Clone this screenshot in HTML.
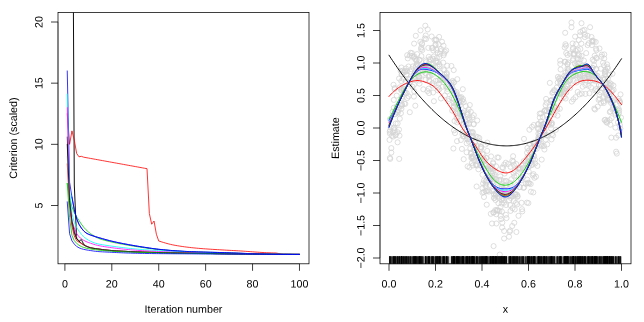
<!DOCTYPE html>
<html><head><meta charset="utf-8"><title>Criterion and estimates</title>
<style>
html,body{margin:0;padding:0;background:#fff;}
svg{display:block;will-change:transform;}
text{text-rendering:geometricPrecision;font-family:"Liberation Sans",Arial,Helvetica,sans-serif;font-size:10.70px;fill:#000;}
</style></head><body>
<svg width="644" height="322" viewBox="0 0 644 322">
<rect x="0" y="0" width="644" height="322" fill="#fff"/>
<defs><clipPath id="cl"><rect x="58.00" y="12.50" width="251.00" height="251.30"/></clipPath><clipPath id="cr"><rect x="380.00" y="12.50" width="251.00" height="251.30"/></clipPath></defs>
<g clip-path="url(#cl)">
<path d="M72.90 -90.00 L74.30 185.00 L76.60 238.00" fill="none" stroke="#000" stroke-width="0.95" stroke-linejoin="round" stroke-linecap="round" />
<path d="M67.25 137.00 L69.59 198.16 L71.94 223.10 L74.28 233.02 L76.63 238.49 L78.97 240.98 L81.32 243.19 L83.67 244.83 L86.01 246.08 L88.36 247.08 L90.70 247.80 L93.05 248.27 L95.39 248.59 L97.74 248.92 L100.09 249.25 L102.43 249.57 L104.78 249.87 L107.12 250.13 L109.47 250.36 L111.81 250.54 L114.16 250.72 L116.51 250.87 L118.85 251.02 L121.20 251.15 L123.54 251.28 L125.89 251.39 L128.23 251.50 L130.58 251.60 L132.93 251.70 L135.27 251.79 L137.62 251.88 L139.96 251.97 L142.31 252.05 L144.65 252.13 L147.00 252.21 L149.35 252.28 L151.69 252.35 L154.04 252.41 L156.38 252.47 L158.73 252.53 L161.07 252.58 L163.42 252.64 L165.77 252.69 L168.11 252.74 L170.46 252.78 L172.80 252.83 L175.15 252.88 L177.49 252.92 L179.84 252.97 L182.19 253.01 L184.53 253.05 L186.88 253.09 L189.22 253.14 L191.57 253.18 L193.91 253.22 L196.26 253.26 L198.60 253.31 L200.95 253.35 L203.30 253.39 L205.64 253.43 L207.99 253.46 L210.33 253.50 L212.68 253.54 L215.02 253.57 L217.37 253.61 L219.72 253.64 L222.06 253.67 L224.41 253.70 L226.75 253.74 L229.10 253.77 L231.44 253.80 L233.79 253.83 L236.14 253.86 L238.48 253.89 L240.83 253.92 L243.17 253.95 L245.52 253.98 L247.86 254.01 L250.21 254.04 L252.56 254.07 L254.90 254.09 L257.25 254.12 L259.59 254.15 L261.94 254.18 L264.28 254.20 L266.63 254.23 L268.98 254.25 L271.32 254.28 L273.67 254.30 L276.01 254.32 L278.36 254.33 L280.70 254.35 L283.05 254.36 L285.40 254.37 L287.74 254.38 L290.09 254.39 L292.43 254.40 L294.78 254.41 L297.12 254.42 L299.47 254.42" fill="none" stroke="#000000" stroke-width="0.80" stroke-linejoin="round" stroke-linecap="round" />
<path d="M67.25 113.75 L69.59 144.33 L71.94 130.88 L74.28 140.05 L76.63 153.39 L78.97 156.81 L81.32 156.32 L83.67 157.18 L86.01 157.61 L88.36 158.03 L90.70 158.46 L93.05 158.88 L95.39 159.31 L97.74 159.73 L100.09 160.16 L102.43 160.59 L104.78 161.01 L107.12 161.44 L109.47 161.86 L111.81 162.29 L114.16 162.72 L116.51 163.14 L118.85 163.57 L121.20 163.99 L123.54 164.42 L125.89 164.85 L128.23 165.27 L130.58 165.70 L132.93 166.12 L135.27 166.55 L137.62 166.98 L139.96 167.40 L142.31 167.83 L144.65 168.25 L147.00 168.68 L149.35 213.57 L151.69 224.22 L154.04 221.04 L156.38 234.25 L158.73 240.98 L161.07 241.73 L163.42 242.45 L165.77 243.14 L168.11 243.79 L170.46 244.37 L172.80 244.89 L175.15 245.34 L177.49 245.74 L179.84 246.12 L182.19 246.48 L184.53 246.80 L186.88 247.11 L189.22 247.39 L191.57 247.66 L193.91 247.90 L196.26 248.13 L198.60 248.34 L200.95 248.53 L203.30 248.72 L205.64 248.89 L207.99 249.05 L210.33 249.21 L212.68 249.36 L215.02 249.50 L217.37 249.64 L219.72 249.78 L222.06 249.92 L224.41 250.05 L226.75 250.19 L229.10 250.32 L231.44 250.45 L233.79 250.57 L236.14 250.70 L238.48 250.83 L240.83 250.98 L243.17 251.14 L245.52 251.30 L247.86 251.47 L250.21 251.65 L252.56 251.82 L254.90 251.99 L257.25 252.15 L259.59 252.31 L261.94 252.46 L264.28 252.59 L266.63 252.71 L268.98 252.81 L271.32 252.89 L273.67 252.94 L276.01 253.03 L278.36 253.44 L280.70 254.09 L283.05 254.43 L285.40 254.43 L287.74 254.43 L290.09 254.43 L292.43 254.43 L294.78 254.43 L297.12 254.43 L299.47 254.43" fill="none" stroke="#FF0000" stroke-width="0.80" stroke-linejoin="round" stroke-linecap="round" />
<path d="M67.25 183.48 L69.59 198.16 L71.94 206.72 L74.28 212.84 L76.63 216.83 L78.97 220.43 L81.32 224.04 L83.67 227.19 L86.01 229.75 L88.36 231.93 L90.70 233.79 L93.05 235.38 L95.39 236.78 L97.74 237.97 L100.09 238.91 L102.43 239.67 L104.78 240.32 L107.12 240.91 L109.47 241.47 L111.81 242.03 L114.16 242.55 L116.51 243.04 L118.85 243.50 L121.20 243.94 L123.54 244.37 L125.89 244.79 L128.23 245.20 L130.58 245.60 L132.93 246.00 L135.27 246.38 L137.62 246.76 L139.96 247.12 L142.31 247.47 L144.65 247.80 L147.00 248.13 L149.35 248.44 L151.69 248.74 L154.04 249.03 L156.38 249.30 L158.73 249.54 L161.07 249.77 L163.42 249.99 L165.77 250.20 L168.11 250.40 L170.46 250.58 L172.80 250.76 L175.15 250.92 L177.49 251.08 L179.84 251.23 L182.19 251.36 L184.53 251.49 L186.88 251.61 L189.22 251.72 L191.57 251.82 L193.91 251.91 L196.26 251.99 L198.60 252.07 L200.95 252.14 L203.30 252.20 L205.64 252.27 L207.99 252.33 L210.33 252.39 L212.68 252.45 L215.02 252.52 L217.37 252.58 L219.72 252.65 L222.06 252.72 L224.41 252.79 L226.75 252.86 L229.10 252.94 L231.44 253.03 L233.79 253.11 L236.14 253.20 L238.48 253.28 L240.83 253.37 L243.17 253.45 L245.52 253.53 L247.86 253.61 L250.21 253.69 L252.56 253.76 L254.90 253.83 L257.25 253.90 L259.59 253.97 L261.94 254.03 L264.28 254.09 L266.63 254.14 L268.98 254.18 L271.32 254.23 L273.67 254.26 L276.01 254.29 L278.36 254.32 L280.70 254.34 L283.05 254.36 L285.40 254.37 L287.74 254.38 L290.09 254.39 L292.43 254.40 L294.78 254.41 L297.12 254.42 L299.47 254.42" fill="none" stroke="#00CD00" stroke-width="0.80" stroke-linejoin="round" stroke-linecap="round" />
<path d="M67.25 70.94 L69.59 182.26 L71.94 196.94 L74.28 209.78 L76.63 218.68 L78.97 224.28 L81.32 228.03 L83.67 230.88 L86.01 232.90 L88.36 234.18 L90.70 235.11 L93.05 235.90 L95.39 236.65 L97.74 237.33 L100.09 238.00 L102.43 238.68 L104.78 239.35 L107.12 240.00 L109.47 240.61 L111.81 241.19 L114.16 241.73 L116.51 242.25 L118.85 242.75 L121.20 243.22 L123.54 243.68 L125.89 244.13 L128.23 244.57 L130.58 245.00 L132.93 245.41 L135.27 245.82 L137.62 246.21 L139.96 246.59 L142.31 246.96 L144.65 247.32 L147.00 247.68 L149.35 248.04 L151.69 248.38 L154.04 248.71 L156.38 249.01 L158.73 249.29 L161.07 249.54 L163.42 249.78 L165.77 250.00 L168.11 250.21 L170.46 250.41 L172.80 250.60 L175.15 250.77 L177.49 250.93 L179.84 251.09 L182.19 251.23 L184.53 251.36 L186.88 251.48 L189.22 251.60 L191.57 251.70 L193.91 251.79 L196.26 251.87 L198.60 251.95 L200.95 252.02 L203.30 252.08 L205.64 252.14 L207.99 252.21 L210.33 252.27 L212.68 252.33 L215.02 252.39 L217.37 252.45 L219.72 252.52 L222.06 252.59 L224.41 252.67 L226.75 252.74 L229.10 252.83 L231.44 252.91 L233.79 253.00 L236.14 253.09 L238.48 253.18 L240.83 253.27 L243.17 253.36 L245.52 253.45 L247.86 253.54 L250.21 253.62 L252.56 253.70 L254.90 253.78 L257.25 253.85 L259.59 253.93 L261.94 254.00 L264.28 254.06 L266.63 254.12 L268.98 254.17 L271.32 254.22 L273.67 254.25 L276.01 254.29 L278.36 254.31 L280.70 254.34 L283.05 254.36 L285.40 254.37 L287.74 254.38 L290.09 254.39 L292.43 254.40 L294.78 254.41 L297.12 254.42 L299.47 254.42" fill="none" stroke="#0000FF" stroke-width="0.80" stroke-linejoin="round" stroke-linecap="round" />
<path d="M67.25 94.18 L69.59 190.82 L71.94 213.79 L74.28 222.37 L76.63 227.40 L78.97 231.09 L81.32 234.15 L83.67 236.69 L86.01 238.58 L88.36 240.07 L90.70 241.30 L93.05 242.34 L95.39 243.22 L97.74 243.83 L100.09 244.32 L102.43 244.74 L104.78 245.11 L107.12 245.45 L109.47 245.80 L111.81 246.15 L114.16 246.48 L116.51 246.81 L118.85 247.11 L121.20 247.41 L123.54 247.69 L125.89 247.95 L128.23 248.21 L130.58 248.46 L132.93 248.69 L135.27 248.91 L137.62 249.13 L139.96 249.33 L142.31 249.53 L144.65 249.72 L147.00 249.89 L149.35 250.05 L151.69 250.21 L154.04 250.35 L156.38 250.49 L158.73 250.63 L161.07 250.76 L163.42 250.88 L165.77 251.01 L168.11 251.13 L170.46 251.26 L172.80 251.38 L175.15 251.50 L177.49 251.63 L179.84 251.75 L182.19 251.88 L184.53 252.01 L186.88 252.15 L189.22 252.28 L191.57 252.41 L193.91 252.53 L196.26 252.65 L198.60 252.76 L200.95 252.87 L203.30 252.97 L205.64 253.06 L207.99 253.14 L210.33 253.22 L212.68 253.28 L215.02 253.35 L217.37 253.40 L219.72 253.45 L222.06 253.50 L224.41 253.55 L226.75 253.59 L229.10 253.63 L231.44 253.67 L233.79 253.71 L236.14 253.75 L238.48 253.78 L240.83 253.82 L243.17 253.86 L245.52 253.89 L247.86 253.93 L250.21 253.97 L252.56 254.00 L254.90 254.04 L257.25 254.08 L259.59 254.11 L261.94 254.15 L264.28 254.18 L266.63 254.21 L268.98 254.24 L271.32 254.26 L273.67 254.29 L276.01 254.31 L278.36 254.33 L280.70 254.35 L283.05 254.36 L285.40 254.37 L287.74 254.38 L290.09 254.39 L292.43 254.40 L294.78 254.41 L297.12 254.42 L299.47 254.42" fill="none" stroke="#00FFFF" stroke-width="0.80" stroke-linejoin="round" stroke-linecap="round" />
<path d="M67.25 107.64 L69.59 203.05 L71.94 220.67 L74.28 228.06 L76.63 233.58 L78.97 236.82 L81.32 238.65 L83.67 240.32 L86.01 241.52 L88.36 242.45 L90.70 243.27 L93.05 244.07 L95.39 244.82 L97.74 245.40 L100.09 245.89 L102.43 246.32 L104.78 246.70 L107.12 247.05 L109.47 247.39 L111.81 247.72 L114.16 248.03 L116.51 248.32 L118.85 248.60 L121.20 248.86 L123.54 249.11 L125.89 249.34 L128.23 249.56 L130.58 249.77 L132.93 249.97 L135.27 250.15 L137.62 250.33 L139.96 250.50 L142.31 250.66 L144.65 250.81 L147.00 250.95 L149.35 251.07 L151.69 251.19 L154.04 251.31 L156.38 251.41 L158.73 251.51 L161.07 251.61 L163.42 251.71 L165.77 251.80 L168.11 251.90 L170.46 251.99 L172.80 252.08 L175.15 252.17 L177.49 252.27 L179.84 252.36 L182.19 252.46 L184.53 252.56 L186.88 252.66 L189.22 252.76 L191.57 252.85 L193.91 252.94 L196.26 253.03 L198.60 253.12 L200.95 253.20 L203.30 253.27 L205.64 253.34 L207.99 253.40 L210.33 253.46 L212.68 253.51 L215.02 253.56 L217.37 253.60 L219.72 253.64 L222.06 253.67 L224.41 253.71 L226.75 253.74 L229.10 253.77 L231.44 253.80 L233.79 253.83 L236.14 253.86 L238.48 253.89 L240.83 253.92 L243.17 253.95 L245.52 253.98 L247.86 254.01 L250.21 254.04 L252.56 254.07 L254.90 254.09 L257.25 254.12 L259.59 254.15 L261.94 254.18 L264.28 254.21 L266.63 254.23 L268.98 254.25 L271.32 254.28 L273.67 254.30 L276.01 254.32 L278.36 254.33 L280.70 254.35 L283.05 254.36 L285.40 254.37 L287.74 254.38 L290.09 254.39 L292.43 254.40 L294.78 254.41 L297.12 254.42 L299.47 254.42" fill="none" stroke="#FF00FF" stroke-width="0.80" stroke-linejoin="round" stroke-linecap="round" />
<path d="M67.25 163.91 L69.59 205.50 L71.94 226.21 L74.28 235.98 L76.63 240.69 L78.97 242.13 L81.32 243.60 L83.67 244.91 L86.01 246.03 L88.36 247.03 L90.70 247.80 L93.05 248.27 L95.39 248.59 L97.74 248.92 L100.09 249.25 L102.43 249.57 L104.78 249.87 L107.12 250.13 L109.47 250.36 L111.81 250.54 L114.16 250.72 L116.51 250.87 L118.85 251.02 L121.20 251.15 L123.54 251.28 L125.89 251.39 L128.23 251.50 L130.58 251.60 L132.93 251.70 L135.27 251.79 L137.62 251.88 L139.96 251.97 L142.31 252.05 L144.65 252.13 L147.00 252.21 L149.35 252.28 L151.69 252.35 L154.04 252.41 L156.38 252.47 L158.73 252.53 L161.07 252.58 L163.42 252.64 L165.77 252.69 L168.11 252.74 L170.46 252.78 L172.80 252.83 L175.15 252.88 L177.49 252.92 L179.84 252.97 L182.19 253.01 L184.53 253.05 L186.88 253.09 L189.22 253.14 L191.57 253.18 L193.91 253.22 L196.26 253.26 L198.60 253.31 L200.95 253.35 L203.30 253.39 L205.64 253.43 L207.99 253.46 L210.33 253.50 L212.68 253.54 L215.02 253.57 L217.37 253.61 L219.72 253.64 L222.06 253.67 L224.41 253.70 L226.75 253.74 L229.10 253.77 L231.44 253.80 L233.79 253.83 L236.14 253.86 L238.48 253.89 L240.83 253.92 L243.17 253.95 L245.52 253.98 L247.86 254.01 L250.21 254.04 L252.56 254.07 L254.90 254.09 L257.25 254.12 L259.59 254.15 L261.94 254.18 L264.28 254.20 L266.63 254.23 L268.98 254.25 L271.32 254.28 L273.67 254.30 L276.01 254.32 L278.36 254.33 L280.70 254.35 L283.05 254.36 L285.40 254.37 L287.74 254.38 L290.09 254.39 L292.43 254.40 L294.78 254.41 L297.12 254.42 L299.47 254.42" fill="none" stroke="#FF0000" stroke-width="0.80" stroke-linejoin="round" stroke-linecap="round" />
<path d="M67.25 156.57 L69.59 200.61 L71.94 221.40 L74.28 231.19 L76.63 237.06 L78.97 240.73 L81.32 238.53 L83.67 243.42 L86.01 246.11 L88.36 247.09 L90.70 247.81 L93.05 248.27 L95.39 248.59 L97.74 248.92 L100.09 249.25 L102.43 249.57 L104.78 249.87 L107.12 250.13 L109.47 250.36 L111.81 250.54 L114.16 250.72 L116.51 250.87 L118.85 251.02 L121.20 251.15 L123.54 251.28 L125.89 251.39 L128.23 251.50 L130.58 251.60 L132.93 251.70 L135.27 251.79 L137.62 251.88 L139.96 251.97 L142.31 252.05 L144.65 252.13 L147.00 252.21 L149.35 252.28 L151.69 252.35 L154.04 252.41 L156.38 252.47 L158.73 252.53 L161.07 252.58 L163.42 252.64 L165.77 252.69 L168.11 252.74 L170.46 252.78 L172.80 252.83 L175.15 252.88 L177.49 252.92 L179.84 252.97 L182.19 253.01 L184.53 253.05 L186.88 253.09 L189.22 253.14 L191.57 253.18 L193.91 253.22 L196.26 253.26 L198.60 253.31 L200.95 253.35 L203.30 253.39 L205.64 253.43 L207.99 253.46 L210.33 253.50 L212.68 253.54 L215.02 253.57 L217.37 253.61 L219.72 253.64 L222.06 253.67 L224.41 253.70 L226.75 253.74 L229.10 253.77 L231.44 253.80 L233.79 253.83 L236.14 253.86 L238.48 253.89 L240.83 253.92 L243.17 253.95 L245.52 253.98 L247.86 254.01 L250.21 254.04 L252.56 254.07 L254.90 254.09 L257.25 254.12 L259.59 254.15 L261.94 254.18 L264.28 254.20 L266.63 254.23 L268.98 254.25 L271.32 254.28 L273.67 254.30 L276.01 254.32 L278.36 254.33 L280.70 254.35 L283.05 254.36 L285.40 254.37 L287.74 254.38 L290.09 254.39 L292.43 254.40 L294.78 254.41 L297.12 254.42 L299.47 254.42" fill="none" stroke="#BEBEBE" stroke-width="0.80" stroke-linejoin="round" stroke-linecap="round" />
<path d="M67.25 144.33 L69.59 200.61 L71.94 221.40 L74.28 231.19 L76.63 238.41 L78.97 241.59 L81.32 239.51 L83.67 244.40 L86.01 246.11 L88.36 247.09 L90.70 247.81 L93.05 248.27 L95.39 248.59 L97.74 248.92 L100.09 249.25 L102.43 249.57 L104.78 249.87 L107.12 250.13 L109.47 250.36 L111.81 250.54 L114.16 250.72 L116.51 250.87 L118.85 251.02 L121.20 251.15 L123.54 251.28 L125.89 251.39 L128.23 251.50 L130.58 251.60 L132.93 251.70 L135.27 251.79 L137.62 251.88 L139.96 251.97 L142.31 252.05 L144.65 252.13 L147.00 252.21 L149.35 252.28 L151.69 252.35 L154.04 252.41 L156.38 252.47 L158.73 252.53 L161.07 252.58 L163.42 252.64 L165.77 252.69 L168.11 252.74 L170.46 252.78 L172.80 252.83 L175.15 252.88 L177.49 252.92 L179.84 252.97 L182.19 253.01 L184.53 253.05 L186.88 253.09 L189.22 253.14 L191.57 253.18 L193.91 253.22 L196.26 253.26 L198.60 253.31 L200.95 253.35 L203.30 253.39 L205.64 253.43 L207.99 253.46 L210.33 253.50 L212.68 253.54 L215.02 253.57 L217.37 253.61 L219.72 253.64 L222.06 253.67 L224.41 253.70 L226.75 253.74 L229.10 253.77 L231.44 253.80 L233.79 253.83 L236.14 253.86 L238.48 253.89 L240.83 253.92 L243.17 253.95 L245.52 253.98 L247.86 254.01 L250.21 254.04 L252.56 254.07 L254.90 254.09 L257.25 254.12 L259.59 254.15 L261.94 254.18 L264.28 254.20 L266.63 254.23 L268.98 254.25 L271.32 254.28 L273.67 254.30 L276.01 254.32 L278.36 254.33 L280.70 254.35 L283.05 254.36 L285.40 254.37 L287.74 254.38 L290.09 254.39 L292.43 254.40 L294.78 254.41 L297.12 254.42 L299.47 254.42" fill="none" stroke="#000000" stroke-width="0.80" stroke-linejoin="round" stroke-linecap="round" />
<path d="M67.25 183.48 L69.59 217.73 L71.94 235.34 L74.28 240.65 L76.63 243.38 L78.97 245.22 L81.32 246.54 L83.67 247.46 L86.01 248.09 L88.36 248.57 L90.70 248.98 L93.05 249.36 L95.39 249.69 L97.74 249.99 L100.09 250.25 L102.43 250.50 L104.78 250.72 L107.12 250.92 L109.47 251.10 L111.81 251.25 L114.16 251.40 L116.51 251.53 L118.85 251.66 L121.20 251.77 L123.54 251.88 L125.89 251.98 L128.23 252.08 L130.58 252.17 L132.93 252.25 L135.27 252.33 L137.62 252.41 L139.96 252.48 L142.31 252.55 L144.65 252.62 L147.00 252.68 L149.35 252.74 L151.69 252.79 L154.04 252.85 L156.38 252.89 L158.73 252.94 L161.07 252.99 L163.42 253.03 L165.77 253.07 L168.11 253.11 L170.46 253.15 L172.80 253.19 L175.15 253.22 L177.49 253.26 L179.84 253.29 L182.19 253.33 L184.53 253.36 L186.88 253.39 L189.22 253.43 L191.57 253.46 L193.91 253.49 L196.26 253.52 L198.60 253.56 L200.95 253.59 L203.30 253.62 L205.64 253.65 L207.99 253.68 L210.33 253.70 L212.68 253.73 L215.02 253.76 L217.37 253.78 L219.72 253.81 L222.06 253.83 L224.41 253.85 L226.75 253.88 L229.10 253.90 L231.44 253.93 L233.79 253.95 L236.14 253.97 L238.48 253.99 L240.83 254.02 L243.17 254.04 L245.52 254.06 L247.86 254.08 L250.21 254.10 L252.56 254.13 L254.90 254.15 L257.25 254.17 L259.59 254.19 L261.94 254.21 L264.28 254.23 L266.63 254.25 L268.98 254.27 L271.32 254.29 L273.67 254.31 L276.01 254.32 L278.36 254.34 L280.70 254.35 L283.05 254.36 L285.40 254.37 L287.74 254.38 L290.09 254.39 L292.43 254.40 L294.78 254.41 L297.12 254.42 L299.47 254.42" fill="none" stroke="#00CD00" stroke-width="0.80" stroke-linejoin="round" stroke-linecap="round" />
<path d="M67.25 201.83 L69.59 233.64 L71.94 240.89 L74.28 244.06 L76.63 246.44 L78.97 247.77 L81.32 248.69 L83.67 249.35 L86.01 249.84 L88.36 250.23 L90.70 250.58 L93.05 250.95 L95.39 251.30 L97.74 251.52 L100.09 251.70 L102.43 251.84 L104.78 251.97 L107.12 252.09 L109.47 252.21 L111.81 252.33 L114.16 252.45 L116.51 252.56 L118.85 252.67 L121.20 252.78 L123.54 252.88 L125.89 252.97 L128.23 253.05 L130.58 253.13 L132.93 253.20 L135.27 253.27 L137.62 253.33 L139.96 253.38 L142.31 253.43 L144.65 253.46 L147.00 253.50 L149.35 253.53 L151.69 253.56 L154.04 253.59 L156.38 253.62 L158.73 253.64 L161.07 253.66 L163.42 253.68 L165.77 253.70 L168.11 253.72 L170.46 253.74 L172.80 253.75 L175.15 253.77 L177.49 253.79 L179.84 253.80 L182.19 253.82 L184.53 253.84 L186.88 253.85 L189.22 253.87 L191.57 253.88 L193.91 253.90 L196.26 253.92 L198.60 253.93 L200.95 253.95 L203.30 253.97 L205.64 253.98 L207.99 254.00 L210.33 254.01 L212.68 254.03 L215.02 254.04 L217.37 254.06 L219.72 254.07 L222.06 254.09 L224.41 254.10 L226.75 254.11 L229.10 254.13 L231.44 254.14 L233.79 254.15 L236.14 254.17 L238.48 254.18 L240.83 254.19 L243.17 254.20 L245.52 254.21 L247.86 254.23 L250.21 254.24 L252.56 254.25 L254.90 254.26 L257.25 254.27 L259.59 254.28 L261.94 254.29 L264.28 254.30 L266.63 254.31 L268.98 254.32 L271.32 254.33 L273.67 254.33 L276.01 254.34 L278.36 254.35 L280.70 254.36 L283.05 254.37 L285.40 254.38 L287.74 254.38 L290.09 254.39 L292.43 254.40 L294.78 254.41 L297.12 254.42 L299.47 254.42" fill="none" stroke="#0000FF" stroke-width="0.80" stroke-linejoin="round" stroke-linecap="round" />
<path d="M71.94 196.94 L74.28 209.78 L76.63 218.68 L78.97 224.28 L81.32 228.03 L83.67 230.88 L86.01 232.90 L88.36 234.18 L90.70 235.11 L93.05 235.90 L95.39 236.65 L97.74 237.33 L100.09 238.00 L102.43 238.68 L104.78 239.35 L107.12 240.00 L109.47 240.61 L111.81 241.19 L114.16 241.73 L116.51 242.25 L118.85 242.75 L121.20 243.22 L123.54 243.68 L125.89 244.13 L128.23 244.57 L130.58 245.00 L132.93 245.41 L135.27 245.82 L137.62 246.21 L139.96 246.59 L142.31 246.96 L144.65 247.32 L147.00 247.68 L149.35 248.04 L151.69 248.38 L154.04 248.71 L156.38 249.01 L158.73 249.29 L161.07 249.54 L163.42 249.78 L165.77 250.00 L168.11 250.21 L170.46 250.41 L172.80 250.60 L175.15 250.77 L177.49 250.93 L179.84 251.09 L182.19 251.23 L184.53 251.36 L186.88 251.48 L189.22 251.60 L191.57 251.70 L193.91 251.79 L196.26 251.87 L198.60 251.95 L200.95 252.02 L203.30 252.08 L205.64 252.14 L207.99 252.21 L210.33 252.27 L212.68 252.33 L215.02 252.39 L217.37 252.45 L219.72 252.52 L222.06 252.59 L224.41 252.67 L226.75 252.74 L229.10 252.83 L231.44 252.91 L233.79 253.00 L236.14 253.09 L238.48 253.18 L240.83 253.27 L243.17 253.36 L245.52 253.45 L247.86 253.54 L250.21 253.62 L252.56 253.70 L254.90 253.78 L257.25 253.85 L259.59 253.93 L261.94 254.00 L264.28 254.06 L266.63 254.12 L268.98 254.17 L271.32 254.22 L273.67 254.25 L276.01 254.29 L278.36 254.31 L280.70 254.34 L283.05 254.36 L285.40 254.37 L287.74 254.38 L290.09 254.39 L292.43 254.40 L294.78 254.41 L297.12 254.42 L299.47 254.42" fill="none" stroke="#0000FF" stroke-width="0.80" stroke-linejoin="round" stroke-linecap="round" />
</g>
<g clip-path="url(#cr)" fill="none" stroke="#D3D3D3" stroke-width="0.75">
<circle cx="430.9" cy="59.6" r="2.55"/><circle cx="393.5" cy="84.8" r="2.55"/><circle cx="496.7" cy="210.1" r="2.55"/><circle cx="557.5" cy="115.6" r="2.55"/><circle cx="486.7" cy="158.1" r="2.55"/><circle cx="501.9" cy="211.6" r="2.55"/><circle cx="392.0" cy="135.8" r="2.55"/><circle cx="502.3" cy="222.6" r="2.55"/><circle cx="608.0" cy="99.3" r="2.55"/><circle cx="586.8" cy="71.1" r="2.55"/><circle cx="558.7" cy="78.9" r="2.55"/><circle cx="414.3" cy="91.4" r="2.55"/><circle cx="596.8" cy="78.1" r="2.55"/><circle cx="588.3" cy="70.2" r="2.55"/><circle cx="427.4" cy="91.1" r="2.55"/><circle cx="536.0" cy="176.7" r="2.55"/><circle cx="393.8" cy="107.7" r="2.55"/><circle cx="416.1" cy="60.4" r="2.55"/><circle cx="462.6" cy="131.9" r="2.55"/><circle cx="425.7" cy="35.5" r="2.55"/><circle cx="565.5" cy="61.8" r="2.55"/><circle cx="579.2" cy="55.5" r="2.55"/><circle cx="469.1" cy="124.1" r="2.55"/><circle cx="463.1" cy="113.0" r="2.55"/><circle cx="415.0" cy="58.8" r="2.55"/><circle cx="408.5" cy="66.5" r="2.55"/><circle cx="554.7" cy="99.5" r="2.55"/><circle cx="528.4" cy="203.1" r="2.55"/><circle cx="401.9" cy="98.4" r="2.55"/><circle cx="500.6" cy="206.8" r="2.55"/><circle cx="482.4" cy="188.3" r="2.55"/><circle cx="586.2" cy="53.1" r="2.55"/><circle cx="555.9" cy="129.8" r="2.55"/><circle cx="529.0" cy="150.5" r="2.55"/><circle cx="517.4" cy="196.8" r="2.55"/><circle cx="609.7" cy="120.1" r="2.55"/><circle cx="618.4" cy="135.5" r="2.55"/><circle cx="467.6" cy="166.4" r="2.55"/><circle cx="444.8" cy="51.7" r="2.55"/><circle cx="574.2" cy="72.1" r="2.55"/><circle cx="403.8" cy="72.4" r="2.55"/><circle cx="473.8" cy="115.2" r="2.55"/><circle cx="405.3" cy="103.9" r="2.55"/><circle cx="463.3" cy="124.8" r="2.55"/><circle cx="405.4" cy="71.7" r="2.55"/><circle cx="456.5" cy="95.3" r="2.55"/><circle cx="572.7" cy="75.1" r="2.55"/><circle cx="599.5" cy="48.5" r="2.55"/><circle cx="573.3" cy="58.8" r="2.55"/><circle cx="519.6" cy="168.3" r="2.55"/><circle cx="532.2" cy="164.6" r="2.55"/><circle cx="473.0" cy="136.4" r="2.55"/><circle cx="428.3" cy="68.0" r="2.55"/><circle cx="490.4" cy="176.3" r="2.55"/><circle cx="559.4" cy="93.1" r="2.55"/><circle cx="403.6" cy="89.5" r="2.55"/><circle cx="393.8" cy="99.9" r="2.55"/><circle cx="568.2" cy="62.4" r="2.55"/><circle cx="458.7" cy="101.3" r="2.55"/><circle cx="552.0" cy="134.0" r="2.55"/><circle cx="559.8" cy="108.8" r="2.55"/><circle cx="605.9" cy="94.5" r="2.55"/><circle cx="482.1" cy="153.5" r="2.55"/><circle cx="472.3" cy="117.5" r="2.55"/><circle cx="576.5" cy="82.5" r="2.55"/><circle cx="566.7" cy="79.1" r="2.55"/><circle cx="540.7" cy="145.0" r="2.55"/><circle cx="577.5" cy="66.6" r="2.55"/><circle cx="538.3" cy="139.3" r="2.55"/><circle cx="611.6" cy="118.2" r="2.55"/><circle cx="466.6" cy="152.3" r="2.55"/><circle cx="560.6" cy="69.5" r="2.55"/><circle cx="609.8" cy="85.2" r="2.55"/><circle cx="466.7" cy="136.4" r="2.55"/><circle cx="531.2" cy="162.7" r="2.55"/><circle cx="474.0" cy="160.2" r="2.55"/><circle cx="496.3" cy="214.3" r="2.55"/><circle cx="406.4" cy="74.4" r="2.55"/><circle cx="393.5" cy="128.5" r="2.55"/><circle cx="565.6" cy="98.5" r="2.55"/><circle cx="494.3" cy="197.8" r="2.55"/><circle cx="533.8" cy="125.0" r="2.55"/><circle cx="561.0" cy="79.0" r="2.55"/><circle cx="486.3" cy="170.9" r="2.55"/><circle cx="474.5" cy="147.3" r="2.55"/><circle cx="428.3" cy="47.9" r="2.55"/><circle cx="573.6" cy="54.6" r="2.55"/><circle cx="582.7" cy="86.7" r="2.55"/><circle cx="559.7" cy="94.0" r="2.55"/><circle cx="592.5" cy="80.0" r="2.55"/><circle cx="539.7" cy="135.9" r="2.55"/><circle cx="550.8" cy="111.7" r="2.55"/><circle cx="433.9" cy="101.2" r="2.55"/><circle cx="567.5" cy="54.9" r="2.55"/><circle cx="466.7" cy="124.2" r="2.55"/><circle cx="490.8" cy="213.8" r="2.55"/><circle cx="463.1" cy="99.1" r="2.55"/><circle cx="521.1" cy="178.3" r="2.55"/><circle cx="542.1" cy="124.9" r="2.55"/><circle cx="522.8" cy="177.2" r="2.55"/><circle cx="463.0" cy="116.4" r="2.55"/><circle cx="439.7" cy="80.1" r="2.55"/><circle cx="585.4" cy="93.9" r="2.55"/><circle cx="459.3" cy="121.0" r="2.55"/><circle cx="490.9" cy="179.8" r="2.55"/><circle cx="410.3" cy="78.7" r="2.55"/><circle cx="459.0" cy="97.6" r="2.55"/><circle cx="408.9" cy="83.6" r="2.55"/><circle cx="468.9" cy="141.7" r="2.55"/><circle cx="553.9" cy="90.3" r="2.55"/><circle cx="615.4" cy="127.6" r="2.55"/><circle cx="534.4" cy="177.8" r="2.55"/><circle cx="451.6" cy="97.9" r="2.55"/><circle cx="541.7" cy="159.6" r="2.55"/><circle cx="534.8" cy="146.4" r="2.55"/><circle cx="581.0" cy="80.8" r="2.55"/><circle cx="513.1" cy="156.2" r="2.55"/><circle cx="600.8" cy="85.3" r="2.55"/><circle cx="485.6" cy="184.6" r="2.55"/><circle cx="455.5" cy="112.9" r="2.55"/><circle cx="509.7" cy="231.8" r="2.55"/><circle cx="603.5" cy="101.4" r="2.55"/><circle cx="557.3" cy="109.5" r="2.55"/><circle cx="503.8" cy="200.1" r="2.55"/><circle cx="504.7" cy="194.5" r="2.55"/><circle cx="539.8" cy="139.5" r="2.55"/><circle cx="493.1" cy="163.5" r="2.55"/><circle cx="517.0" cy="194.6" r="2.55"/><circle cx="614.8" cy="112.7" r="2.55"/><circle cx="605.8" cy="82.9" r="2.55"/><circle cx="584.5" cy="78.6" r="2.55"/><circle cx="418.5" cy="76.4" r="2.55"/><circle cx="518.4" cy="168.0" r="2.55"/><circle cx="474.2" cy="145.6" r="2.55"/><circle cx="601.0" cy="102.9" r="2.55"/><circle cx="461.9" cy="148.9" r="2.55"/><circle cx="605.4" cy="119.8" r="2.55"/><circle cx="444.4" cy="70.2" r="2.55"/><circle cx="486.7" cy="204.7" r="2.55"/><circle cx="612.2" cy="102.0" r="2.55"/><circle cx="527.5" cy="157.0" r="2.55"/><circle cx="605.7" cy="87.7" r="2.55"/><circle cx="514.3" cy="222.8" r="2.55"/><circle cx="442.0" cy="41.8" r="2.55"/><circle cx="554.8" cy="90.3" r="2.55"/><circle cx="510.3" cy="195.7" r="2.55"/><circle cx="506.5" cy="181.2" r="2.55"/><circle cx="420.7" cy="70.0" r="2.55"/><circle cx="422.7" cy="70.7" r="2.55"/><circle cx="605.1" cy="72.4" r="2.55"/><circle cx="611.3" cy="137.6" r="2.55"/><circle cx="613.6" cy="89.9" r="2.55"/><circle cx="472.2" cy="136.0" r="2.55"/><circle cx="399.7" cy="87.4" r="2.55"/><circle cx="517.8" cy="168.6" r="2.55"/><circle cx="560.2" cy="60.6" r="2.55"/><circle cx="539.7" cy="113.6" r="2.55"/><circle cx="401.3" cy="81.1" r="2.55"/><circle cx="443.1" cy="82.1" r="2.55"/><circle cx="553.1" cy="92.1" r="2.55"/><circle cx="401.8" cy="104.2" r="2.55"/><circle cx="585.8" cy="80.4" r="2.55"/><circle cx="619.0" cy="113.0" r="2.55"/><circle cx="446.6" cy="74.4" r="2.55"/><circle cx="401.6" cy="74.7" r="2.55"/><circle cx="616.8" cy="153.6" r="2.55"/><circle cx="567.4" cy="64.2" r="2.55"/><circle cx="494.6" cy="174.6" r="2.55"/><circle cx="500.2" cy="189.2" r="2.55"/><circle cx="601.9" cy="54.6" r="2.55"/><circle cx="471.7" cy="156.8" r="2.55"/><circle cx="401.4" cy="90.2" r="2.55"/><circle cx="531.7" cy="165.1" r="2.55"/><circle cx="461.7" cy="115.0" r="2.55"/><circle cx="547.5" cy="135.6" r="2.55"/><circle cx="609.4" cy="99.3" r="2.55"/><circle cx="472.8" cy="131.9" r="2.55"/><circle cx="446.4" cy="78.0" r="2.55"/><circle cx="401.3" cy="90.1" r="2.55"/><circle cx="582.4" cy="76.0" r="2.55"/><circle cx="407.2" cy="55.2" r="2.55"/><circle cx="610.4" cy="111.4" r="2.55"/><circle cx="553.2" cy="103.3" r="2.55"/><circle cx="600.9" cy="68.7" r="2.55"/><circle cx="578.4" cy="66.6" r="2.55"/><circle cx="433.3" cy="50.4" r="2.55"/><circle cx="429.9" cy="59.1" r="2.55"/><circle cx="612.5" cy="73.8" r="2.55"/><circle cx="456.7" cy="92.2" r="2.55"/><circle cx="572.8" cy="60.4" r="2.55"/><circle cx="428.7" cy="76.7" r="2.55"/><circle cx="458.5" cy="98.4" r="2.55"/><circle cx="545.6" cy="105.2" r="2.55"/><circle cx="446.8" cy="73.2" r="2.55"/><circle cx="563.8" cy="97.1" r="2.55"/><circle cx="593.4" cy="78.1" r="2.55"/><circle cx="463.5" cy="123.6" r="2.55"/><circle cx="458.4" cy="106.2" r="2.55"/><circle cx="395.4" cy="135.2" r="2.55"/><circle cx="487.3" cy="142.6" r="2.55"/><circle cx="404.2" cy="91.6" r="2.55"/><circle cx="522.6" cy="175.0" r="2.55"/><circle cx="548.9" cy="122.4" r="2.55"/><circle cx="521.1" cy="180.2" r="2.55"/><circle cx="529.4" cy="129.7" r="2.55"/><circle cx="528.4" cy="182.7" r="2.55"/><circle cx="598.9" cy="85.1" r="2.55"/><circle cx="512.5" cy="208.2" r="2.55"/><circle cx="589.3" cy="74.6" r="2.55"/><circle cx="470.8" cy="111.8" r="2.55"/><circle cx="421.7" cy="75.7" r="2.55"/><circle cx="440.6" cy="79.3" r="2.55"/><circle cx="573.4" cy="99.3" r="2.55"/><circle cx="442.4" cy="80.2" r="2.55"/><circle cx="568.6" cy="69.0" r="2.55"/><circle cx="598.9" cy="84.8" r="2.55"/><circle cx="515.6" cy="194.1" r="2.55"/><circle cx="422.3" cy="50.1" r="2.55"/><circle cx="534.0" cy="144.0" r="2.55"/><circle cx="477.2" cy="156.9" r="2.55"/><circle cx="600.2" cy="92.1" r="2.55"/><circle cx="441.0" cy="98.5" r="2.55"/><circle cx="443.5" cy="45.7" r="2.55"/><circle cx="501.1" cy="219.1" r="2.55"/><circle cx="503.8" cy="181.1" r="2.55"/><circle cx="432.7" cy="67.4" r="2.55"/><circle cx="476.0" cy="165.1" r="2.55"/><circle cx="544.3" cy="111.1" r="2.55"/><circle cx="498.4" cy="203.2" r="2.55"/><circle cx="402.9" cy="70.6" r="2.55"/><circle cx="485.6" cy="191.2" r="2.55"/><circle cx="485.7" cy="164.5" r="2.55"/><circle cx="493.1" cy="162.3" r="2.55"/><circle cx="394.5" cy="130.2" r="2.55"/><circle cx="452.7" cy="80.9" r="2.55"/><circle cx="610.0" cy="83.2" r="2.55"/><circle cx="594.3" cy="108.6" r="2.55"/><circle cx="607.7" cy="68.6" r="2.55"/><circle cx="565.4" cy="44.2" r="2.55"/><circle cx="489.9" cy="185.0" r="2.55"/><circle cx="607.0" cy="94.9" r="2.55"/><circle cx="458.9" cy="101.3" r="2.55"/><circle cx="526.9" cy="202.6" r="2.55"/><circle cx="525.6" cy="169.0" r="2.55"/><circle cx="491.5" cy="166.2" r="2.55"/><circle cx="447.2" cy="91.5" r="2.55"/><circle cx="465.8" cy="106.2" r="2.55"/><circle cx="538.5" cy="124.2" r="2.55"/><circle cx="455.0" cy="133.1" r="2.55"/><circle cx="469.5" cy="167.4" r="2.55"/><circle cx="471.3" cy="152.7" r="2.55"/><circle cx="464.5" cy="111.2" r="2.55"/><circle cx="581.6" cy="55.9" r="2.55"/><circle cx="515.9" cy="202.9" r="2.55"/><circle cx="393.3" cy="136.5" r="2.55"/><circle cx="561.4" cy="98.4" r="2.55"/><circle cx="505.8" cy="162.7" r="2.55"/><circle cx="570.1" cy="87.9" r="2.55"/><circle cx="504.0" cy="202.8" r="2.55"/><circle cx="461.3" cy="97.1" r="2.55"/><circle cx="584.1" cy="67.5" r="2.55"/><circle cx="429.3" cy="80.3" r="2.55"/><circle cx="453.7" cy="70.1" r="2.55"/><circle cx="501.6" cy="186.0" r="2.55"/><circle cx="588.9" cy="76.8" r="2.55"/><circle cx="415.8" cy="76.9" r="2.55"/><circle cx="467.7" cy="114.4" r="2.55"/><circle cx="512.7" cy="196.0" r="2.55"/><circle cx="546.7" cy="115.8" r="2.55"/><circle cx="413.5" cy="57.4" r="2.55"/><circle cx="564.6" cy="61.7" r="2.55"/><circle cx="518.5" cy="215.8" r="2.55"/><circle cx="509.2" cy="200.2" r="2.55"/><circle cx="477.6" cy="161.4" r="2.55"/><circle cx="462.2" cy="114.2" r="2.55"/><circle cx="596.0" cy="57.9" r="2.55"/><circle cx="620.1" cy="102.9" r="2.55"/><circle cx="429.7" cy="70.5" r="2.55"/><circle cx="438.2" cy="87.5" r="2.55"/><circle cx="544.1" cy="123.6" r="2.55"/><circle cx="566.8" cy="85.9" r="2.55"/><circle cx="580.3" cy="31.9" r="2.55"/><circle cx="459.3" cy="102.1" r="2.55"/><circle cx="437.6" cy="66.3" r="2.55"/><circle cx="405.9" cy="68.5" r="2.55"/><circle cx="476.5" cy="164.3" r="2.55"/><circle cx="519.8" cy="187.2" r="2.55"/><circle cx="591.9" cy="69.5" r="2.55"/><circle cx="396.7" cy="95.6" r="2.55"/><circle cx="409.8" cy="55.5" r="2.55"/><circle cx="540.9" cy="121.4" r="2.55"/><circle cx="545.1" cy="110.8" r="2.55"/><circle cx="417.9" cy="71.1" r="2.55"/><circle cx="411.4" cy="69.2" r="2.55"/><circle cx="395.5" cy="114.1" r="2.55"/><circle cx="539.8" cy="117.5" r="2.55"/><circle cx="454.1" cy="106.7" r="2.55"/><circle cx="445.0" cy="78.6" r="2.55"/><circle cx="543.5" cy="124.0" r="2.55"/><circle cx="417.1" cy="54.1" r="2.55"/><circle cx="513.7" cy="201.0" r="2.55"/><circle cx="410.1" cy="81.9" r="2.55"/><circle cx="404.3" cy="103.7" r="2.55"/><circle cx="544.4" cy="149.5" r="2.55"/><circle cx="573.1" cy="47.8" r="2.55"/><circle cx="496.5" cy="179.9" r="2.55"/><circle cx="482.5" cy="192.7" r="2.55"/><circle cx="552.1" cy="123.2" r="2.55"/><circle cx="406.7" cy="74.6" r="2.55"/><circle cx="453.7" cy="105.5" r="2.55"/><circle cx="599.5" cy="95.0" r="2.55"/><circle cx="609.6" cy="75.0" r="2.55"/><circle cx="397.9" cy="112.6" r="2.55"/><circle cx="389.7" cy="131.8" r="2.55"/><circle cx="567.5" cy="64.2" r="2.55"/><circle cx="494.1" cy="198.1" r="2.55"/><circle cx="566.3" cy="75.8" r="2.55"/><circle cx="538.5" cy="138.7" r="2.55"/><circle cx="493.2" cy="171.4" r="2.55"/><circle cx="554.1" cy="114.5" r="2.55"/><circle cx="529.6" cy="144.1" r="2.55"/><circle cx="392.7" cy="111.7" r="2.55"/><circle cx="497.4" cy="157.4" r="2.55"/><circle cx="594.1" cy="65.1" r="2.55"/><circle cx="570.4" cy="79.6" r="2.55"/><circle cx="541.3" cy="143.9" r="2.55"/><circle cx="533.5" cy="174.1" r="2.55"/><circle cx="578.9" cy="63.3" r="2.55"/><circle cx="456.7" cy="103.5" r="2.55"/><circle cx="480.6" cy="146.9" r="2.55"/><circle cx="535.6" cy="147.6" r="2.55"/><circle cx="579.9" cy="77.8" r="2.55"/><circle cx="463.7" cy="102.2" r="2.55"/><circle cx="428.2" cy="70.1" r="2.55"/><circle cx="452.3" cy="87.5" r="2.55"/><circle cx="491.1" cy="156.4" r="2.55"/><circle cx="411.9" cy="53.1" r="2.55"/><circle cx="535.1" cy="163.5" r="2.55"/><circle cx="597.4" cy="75.8" r="2.55"/><circle cx="468.6" cy="109.5" r="2.55"/><circle cx="611.4" cy="84.3" r="2.55"/><circle cx="486.6" cy="165.4" r="2.55"/><circle cx="513.6" cy="173.4" r="2.55"/><circle cx="616.1" cy="151.7" r="2.55"/><circle cx="554.1" cy="107.2" r="2.55"/><circle cx="506.5" cy="218.1" r="2.55"/><circle cx="564.4" cy="91.2" r="2.55"/><circle cx="499.0" cy="197.7" r="2.55"/><circle cx="556.8" cy="87.5" r="2.55"/><circle cx="440.7" cy="51.1" r="2.55"/><circle cx="406.9" cy="71.2" r="2.55"/><circle cx="528.3" cy="162.0" r="2.55"/><circle cx="510.8" cy="197.9" r="2.55"/><circle cx="496.1" cy="166.3" r="2.55"/><circle cx="416.3" cy="65.6" r="2.55"/><circle cx="606.3" cy="122.1" r="2.55"/><circle cx="415.0" cy="73.2" r="2.55"/><circle cx="613.9" cy="100.1" r="2.55"/><circle cx="463.0" cy="136.3" r="2.55"/><circle cx="454.5" cy="94.4" r="2.55"/><circle cx="607.5" cy="67.2" r="2.55"/><circle cx="612.3" cy="109.7" r="2.55"/><circle cx="551.9" cy="109.3" r="2.55"/><circle cx="611.1" cy="103.0" r="2.55"/><circle cx="429.7" cy="81.3" r="2.55"/><circle cx="588.2" cy="73.9" r="2.55"/><circle cx="532.7" cy="175.5" r="2.55"/><circle cx="457.7" cy="111.6" r="2.55"/><circle cx="527.7" cy="183.3" r="2.55"/><circle cx="414.4" cy="56.5" r="2.55"/><circle cx="573.1" cy="71.1" r="2.55"/><circle cx="538.2" cy="129.3" r="2.55"/><circle cx="413.9" cy="96.6" r="2.55"/><circle cx="440.1" cy="72.6" r="2.55"/><circle cx="456.8" cy="94.3" r="2.55"/><circle cx="499.1" cy="180.0" r="2.55"/><circle cx="442.6" cy="86.7" r="2.55"/><circle cx="458.2" cy="109.7" r="2.55"/><circle cx="517.2" cy="184.9" r="2.55"/><circle cx="423.2" cy="71.5" r="2.55"/><circle cx="564.1" cy="89.3" r="2.55"/><circle cx="493.8" cy="178.1" r="2.55"/><circle cx="483.7" cy="192.0" r="2.55"/><circle cx="522.3" cy="211.4" r="2.55"/><circle cx="425.7" cy="73.2" r="2.55"/><circle cx="596.3" cy="68.8" r="2.55"/><circle cx="415.8" cy="35.8" r="2.55"/><circle cx="516.2" cy="164.0" r="2.55"/><circle cx="613.3" cy="106.5" r="2.55"/><circle cx="421.4" cy="56.1" r="2.55"/><circle cx="551.5" cy="124.7" r="2.55"/><circle cx="615.7" cy="114.9" r="2.55"/><circle cx="620.5" cy="94.4" r="2.55"/><circle cx="469.8" cy="105.0" r="2.55"/><circle cx="534.5" cy="142.5" r="2.55"/><circle cx="608.1" cy="100.4" r="2.55"/><circle cx="534.2" cy="156.1" r="2.55"/><circle cx="591.9" cy="45.1" r="2.55"/><circle cx="551.2" cy="123.0" r="2.55"/><circle cx="397.6" cy="123.5" r="2.55"/><circle cx="469.3" cy="139.0" r="2.55"/><circle cx="596.8" cy="58.3" r="2.55"/><circle cx="498.0" cy="210.4" r="2.55"/><circle cx="489.9" cy="175.7" r="2.55"/><circle cx="459.9" cy="105.5" r="2.55"/><circle cx="426.1" cy="62.1" r="2.55"/><circle cx="544.5" cy="130.7" r="2.55"/><circle cx="480.9" cy="148.7" r="2.55"/><circle cx="594.1" cy="60.9" r="2.55"/><circle cx="399.0" cy="129.6" r="2.55"/><circle cx="592.3" cy="40.8" r="2.55"/><circle cx="410.5" cy="71.7" r="2.55"/><circle cx="580.5" cy="59.3" r="2.55"/><circle cx="495.5" cy="195.9" r="2.55"/><circle cx="561.1" cy="93.4" r="2.55"/><circle cx="493.8" cy="212.4" r="2.55"/><circle cx="425.9" cy="69.1" r="2.55"/><circle cx="609.5" cy="88.9" r="2.55"/><circle cx="538.4" cy="133.7" r="2.55"/><circle cx="438.9" cy="83.6" r="2.55"/><circle cx="527.7" cy="167.4" r="2.55"/><circle cx="437.7" cy="90.3" r="2.55"/><circle cx="482.5" cy="174.7" r="2.55"/><circle cx="527.4" cy="147.9" r="2.55"/><circle cx="530.9" cy="191.7" r="2.55"/><circle cx="414.1" cy="74.5" r="2.55"/><circle cx="433.8" cy="56.5" r="2.55"/><circle cx="495.5" cy="179.0" r="2.55"/><circle cx="509.0" cy="195.9" r="2.55"/><circle cx="588.3" cy="71.1" r="2.55"/><circle cx="523.1" cy="168.0" r="2.55"/><circle cx="577.7" cy="64.1" r="2.55"/><circle cx="475.0" cy="142.3" r="2.55"/><circle cx="432.6" cy="83.0" r="2.55"/><circle cx="454.0" cy="107.0" r="2.55"/><circle cx="394.8" cy="88.0" r="2.55"/><circle cx="473.7" cy="150.0" r="2.55"/><circle cx="536.8" cy="148.7" r="2.55"/><circle cx="584.8" cy="77.7" r="2.55"/><circle cx="443.6" cy="55.3" r="2.55"/><circle cx="553.1" cy="135.4" r="2.55"/><circle cx="563.9" cy="91.9" r="2.55"/><circle cx="549.7" cy="107.0" r="2.55"/><circle cx="613.0" cy="108.2" r="2.55"/><circle cx="523.8" cy="161.2" r="2.55"/><circle cx="492.1" cy="177.9" r="2.55"/><circle cx="513.8" cy="164.9" r="2.55"/><circle cx="390.1" cy="130.4" r="2.55"/><circle cx="390.6" cy="127.5" r="2.55"/><circle cx="503.8" cy="189.1" r="2.55"/><circle cx="476.6" cy="186.5" r="2.55"/><circle cx="420.4" cy="41.8" r="2.55"/><circle cx="471.4" cy="158.0" r="2.55"/><circle cx="538.1" cy="124.1" r="2.55"/><circle cx="510.5" cy="166.8" r="2.55"/><circle cx="481.2" cy="147.3" r="2.55"/><circle cx="568.0" cy="71.5" r="2.55"/><circle cx="401.4" cy="108.7" r="2.55"/><circle cx="595.0" cy="109.5" r="2.55"/><circle cx="546.9" cy="111.1" r="2.55"/><circle cx="486.5" cy="180.1" r="2.55"/><circle cx="549.8" cy="82.9" r="2.55"/><circle cx="607.4" cy="98.6" r="2.55"/><circle cx="541.3" cy="124.7" r="2.55"/><circle cx="544.4" cy="134.7" r="2.55"/><circle cx="552.2" cy="99.6" r="2.55"/><circle cx="601.9" cy="88.4" r="2.55"/><circle cx="595.8" cy="75.4" r="2.55"/><circle cx="454.0" cy="130.4" r="2.55"/><circle cx="394.2" cy="127.6" r="2.55"/><circle cx="453.6" cy="98.8" r="2.55"/><circle cx="473.6" cy="124.4" r="2.55"/><circle cx="446.5" cy="76.7" r="2.55"/><circle cx="495.3" cy="210.1" r="2.55"/><circle cx="607.1" cy="64.4" r="2.55"/><circle cx="433.0" cy="58.7" r="2.55"/><circle cx="477.7" cy="137.2" r="2.55"/><circle cx="582.7" cy="79.7" r="2.55"/><circle cx="419.5" cy="60.0" r="2.55"/><circle cx="470.9" cy="153.8" r="2.55"/><circle cx="517.1" cy="204.4" r="2.55"/><circle cx="567.9" cy="70.3" r="2.55"/><circle cx="589.4" cy="93.3" r="2.55"/><circle cx="448.5" cy="101.1" r="2.55"/><circle cx="610.4" cy="124.7" r="2.55"/><circle cx="490.1" cy="179.2" r="2.55"/><circle cx="419.5" cy="83.6" r="2.55"/><circle cx="426.0" cy="39.1" r="2.55"/><circle cx="490.7" cy="168.3" r="2.55"/><circle cx="577.8" cy="49.7" r="2.55"/><circle cx="405.0" cy="92.8" r="2.55"/><circle cx="439.6" cy="66.4" r="2.55"/><circle cx="575.4" cy="50.7" r="2.55"/><circle cx="580.4" cy="78.6" r="2.55"/><circle cx="435.5" cy="44.2" r="2.55"/><circle cx="402.1" cy="96.7" r="2.55"/><circle cx="541.1" cy="113.4" r="2.55"/><circle cx="573.6" cy="80.9" r="2.55"/><circle cx="400.6" cy="70.9" r="2.55"/><circle cx="510.5" cy="210.9" r="2.55"/><circle cx="422.0" cy="43.2" r="2.55"/><circle cx="528.7" cy="171.5" r="2.55"/><circle cx="415.1" cy="79.0" r="2.55"/><circle cx="419.6" cy="70.8" r="2.55"/><circle cx="514.7" cy="209.4" r="2.55"/><circle cx="609.2" cy="92.7" r="2.55"/><circle cx="395.7" cy="123.5" r="2.55"/><circle cx="412.1" cy="55.9" r="2.55"/><circle cx="436.0" cy="60.9" r="2.55"/><circle cx="578.4" cy="54.5" r="2.55"/><circle cx="444.9" cy="95.4" r="2.55"/><circle cx="452.2" cy="110.7" r="2.55"/><circle cx="488.8" cy="191.6" r="2.55"/><circle cx="588.2" cy="76.6" r="2.55"/><circle cx="454.2" cy="93.4" r="2.55"/><circle cx="498.7" cy="193.8" r="2.55"/><circle cx="499.4" cy="210.9" r="2.55"/><circle cx="505.2" cy="185.5" r="2.55"/><circle cx="492.7" cy="168.8" r="2.55"/><circle cx="576.2" cy="65.4" r="2.55"/><circle cx="435.5" cy="45.4" r="2.55"/><circle cx="506.3" cy="185.5" r="2.55"/><circle cx="419.5" cy="76.8" r="2.55"/><circle cx="591.6" cy="74.4" r="2.55"/><circle cx="487.8" cy="177.6" r="2.55"/><circle cx="621.0" cy="117.6" r="2.55"/><circle cx="543.2" cy="127.2" r="2.55"/><circle cx="436.4" cy="49.8" r="2.55"/><circle cx="604.0" cy="65.4" r="2.55"/><circle cx="457.3" cy="122.4" r="2.55"/><circle cx="537.4" cy="165.9" r="2.55"/><circle cx="566.9" cy="78.0" r="2.55"/><circle cx="413.0" cy="66.4" r="2.55"/><circle cx="431.8" cy="47.9" r="2.55"/><circle cx="488.2" cy="166.8" r="2.55"/><circle cx="472.4" cy="132.6" r="2.55"/><circle cx="462.4" cy="134.0" r="2.55"/><circle cx="451.8" cy="85.1" r="2.55"/><circle cx="472.8" cy="156.1" r="2.55"/><circle cx="617.2" cy="109.6" r="2.55"/><circle cx="495.6" cy="172.3" r="2.55"/><circle cx="495.5" cy="200.0" r="2.55"/><circle cx="447.2" cy="86.7" r="2.55"/><circle cx="433.1" cy="92.5" r="2.55"/><circle cx="448.9" cy="98.9" r="2.55"/><circle cx="594.9" cy="79.9" r="2.55"/><circle cx="595.1" cy="90.4" r="2.55"/><circle cx="428.7" cy="88.7" r="2.55"/><circle cx="481.2" cy="147.1" r="2.55"/><circle cx="524.0" cy="187.4" r="2.55"/><circle cx="517.7" cy="196.1" r="2.55"/><circle cx="435.8" cy="80.8" r="2.55"/><circle cx="403.4" cy="78.8" r="2.55"/><circle cx="574.2" cy="53.8" r="2.55"/><circle cx="419.2" cy="76.9" r="2.55"/><circle cx="481.4" cy="166.1" r="2.55"/><circle cx="566.2" cy="53.0" r="2.55"/><circle cx="548.3" cy="119.4" r="2.55"/><circle cx="483.9" cy="168.2" r="2.55"/><circle cx="574.8" cy="63.4" r="2.55"/><circle cx="619.9" cy="101.4" r="2.55"/><circle cx="500.6" cy="215.9" r="2.55"/><circle cx="594.8" cy="80.8" r="2.55"/><circle cx="510.1" cy="230.5" r="2.55"/><circle cx="479.3" cy="159.9" r="2.55"/><circle cx="619.1" cy="110.4" r="2.55"/><circle cx="568.5" cy="81.2" r="2.55"/><circle cx="420.5" cy="30.4" r="2.55"/><circle cx="514.8" cy="170.8" r="2.55"/><circle cx="477.2" cy="120.5" r="2.55"/><circle cx="504.2" cy="189.9" r="2.55"/><circle cx="564.7" cy="47.4" r="2.55"/><circle cx="467.5" cy="139.4" r="2.55"/><circle cx="528.8" cy="158.0" r="2.55"/><circle cx="444.4" cy="74.6" r="2.55"/><circle cx="492.0" cy="190.9" r="2.55"/><circle cx="595.7" cy="41.9" r="2.55"/><circle cx="560.3" cy="64.0" r="2.55"/><circle cx="473.4" cy="157.3" r="2.55"/><circle cx="453.7" cy="82.7" r="2.55"/><circle cx="529.2" cy="162.1" r="2.55"/><circle cx="499.4" cy="187.4" r="2.55"/><circle cx="618.6" cy="108.6" r="2.55"/><circle cx="457.8" cy="113.4" r="2.55"/><circle cx="603.1" cy="79.3" r="2.55"/><circle cx="443.5" cy="69.3" r="2.55"/><circle cx="575.3" cy="75.5" r="2.55"/><circle cx="590.2" cy="73.7" r="2.55"/><circle cx="432.9" cy="47.9" r="2.55"/><circle cx="492.2" cy="182.3" r="2.55"/><circle cx="554.3" cy="106.8" r="2.55"/><circle cx="484.8" cy="165.3" r="2.55"/><circle cx="414.0" cy="84.7" r="2.55"/><circle cx="567.5" cy="68.6" r="2.55"/><circle cx="502.1" cy="227.5" r="2.55"/><circle cx="431.9" cy="74.9" r="2.55"/><circle cx="400.9" cy="113.2" r="2.55"/><circle cx="510.1" cy="205.1" r="2.55"/><circle cx="457.0" cy="141.2" r="2.55"/><circle cx="578.1" cy="59.2" r="2.55"/><circle cx="425.6" cy="60.5" r="2.55"/><circle cx="392.8" cy="132.3" r="2.55"/><circle cx="600.0" cy="79.7" r="2.55"/><circle cx="486.1" cy="158.0" r="2.55"/><circle cx="587.5" cy="35.7" r="2.55"/><circle cx="521.6" cy="202.8" r="2.55"/><circle cx="593.8" cy="41.3" r="2.55"/><circle cx="607.2" cy="122.8" r="2.55"/><circle cx="408.6" cy="96.3" r="2.55"/><circle cx="453.9" cy="103.2" r="2.55"/><circle cx="431.6" cy="36.5" r="2.55"/><circle cx="611.4" cy="91.5" r="2.55"/><circle cx="550.5" cy="100.7" r="2.55"/><circle cx="604.2" cy="58.5" r="2.55"/><circle cx="618.1" cy="115.1" r="2.55"/><circle cx="573.1" cy="76.0" r="2.55"/><circle cx="592.2" cy="41.8" r="2.55"/><circle cx="607.7" cy="97.6" r="2.55"/><circle cx="530.7" cy="184.0" r="2.55"/><circle cx="579.6" cy="94.3" r="2.55"/><circle cx="615.6" cy="109.8" r="2.55"/><circle cx="498.6" cy="157.6" r="2.55"/><circle cx="439.4" cy="57.0" r="2.55"/><circle cx="543.7" cy="128.0" r="2.55"/><circle cx="401.9" cy="74.2" r="2.55"/><circle cx="460.9" cy="140.0" r="2.55"/><circle cx="476.6" cy="146.3" r="2.55"/><circle cx="576.1" cy="74.9" r="2.55"/><circle cx="394.6" cy="89.1" r="2.55"/><circle cx="463.8" cy="135.9" r="2.55"/><circle cx="460.3" cy="97.7" r="2.55"/><circle cx="543.0" cy="127.1" r="2.55"/><circle cx="592.5" cy="67.8" r="2.55"/><circle cx="500.7" cy="179.7" r="2.55"/><circle cx="585.2" cy="65.7" r="2.55"/><circle cx="487.2" cy="150.9" r="2.55"/><circle cx="505.8" cy="196.7" r="2.55"/><circle cx="463.7" cy="159.2" r="2.55"/><circle cx="434.6" cy="39.9" r="2.55"/><circle cx="596.0" cy="48.7" r="2.55"/><circle cx="529.0" cy="156.1" r="2.55"/><circle cx="451.4" cy="66.0" r="2.55"/><circle cx="514.3" cy="176.5" r="2.55"/><circle cx="483.1" cy="183.4" r="2.55"/><circle cx="397.6" cy="142.3" r="2.55"/><circle cx="551.0" cy="128.4" r="2.55"/><circle cx="590.8" cy="71.6" r="2.55"/><circle cx="530.5" cy="152.6" r="2.55"/><circle cx="423.3" cy="89.3" r="2.55"/><circle cx="486.5" cy="191.3" r="2.55"/><circle cx="436.3" cy="40.1" r="2.55"/><circle cx="428.6" cy="75.6" r="2.55"/><circle cx="457.4" cy="117.7" r="2.55"/><circle cx="597.3" cy="91.0" r="2.55"/><circle cx="585.0" cy="34.6" r="2.55"/><circle cx="573.5" cy="53.6" r="2.55"/><circle cx="604.8" cy="71.6" r="2.55"/><circle cx="414.1" cy="43.6" r="2.55"/><circle cx="439.9" cy="53.8" r="2.55"/><circle cx="399.1" cy="78.5" r="2.55"/><circle cx="390.0" cy="119.1" r="2.55"/><circle cx="538.1" cy="128.1" r="2.55"/><circle cx="484.0" cy="159.3" r="2.55"/><circle cx="520.5" cy="168.7" r="2.55"/><circle cx="591.0" cy="87.4" r="2.55"/><circle cx="455.6" cy="104.2" r="2.55"/><circle cx="445.9" cy="86.3" r="2.55"/><circle cx="580.0" cy="75.1" r="2.55"/><circle cx="394.8" cy="113.8" r="2.55"/><circle cx="604.3" cy="54.4" r="2.55"/><circle cx="469.7" cy="119.8" r="2.55"/><circle cx="396.8" cy="106.3" r="2.55"/><circle cx="439.4" cy="64.4" r="2.55"/><circle cx="407.8" cy="58.4" r="2.55"/><circle cx="585.4" cy="85.1" r="2.55"/><circle cx="401.9" cy="88.9" r="2.55"/><circle cx="401.4" cy="67.5" r="2.55"/><circle cx="532.0" cy="126.9" r="2.55"/><circle cx="437.8" cy="52.7" r="2.55"/><circle cx="466.8" cy="119.3" r="2.55"/><circle cx="571.8" cy="101.6" r="2.55"/><circle cx="487.9" cy="190.5" r="2.55"/><circle cx="558.6" cy="92.9" r="2.55"/><circle cx="454.5" cy="91.3" r="2.55"/><circle cx="419.5" cy="59.7" r="2.55"/><circle cx="404.8" cy="71.0" r="2.55"/><circle cx="583.9" cy="73.0" r="2.55"/><circle cx="417.4" cy="64.2" r="2.55"/><circle cx="407.3" cy="98.1" r="2.55"/><circle cx="425.5" cy="67.7" r="2.55"/><circle cx="510.3" cy="183.1" r="2.55"/><circle cx="549.0" cy="109.8" r="2.55"/><circle cx="503.9" cy="190.3" r="2.55"/><circle cx="533.3" cy="142.7" r="2.55"/><circle cx="504.6" cy="173.5" r="2.55"/><circle cx="562.1" cy="90.1" r="2.55"/><circle cx="529.3" cy="183.4" r="2.55"/><circle cx="429.9" cy="76.0" r="2.55"/><circle cx="467.1" cy="138.7" r="2.55"/><circle cx="619.9" cy="125.1" r="2.55"/><circle cx="493.3" cy="212.5" r="2.55"/><circle cx="546.5" cy="135.2" r="2.55"/><circle cx="429.1" cy="67.9" r="2.55"/><circle cx="546.1" cy="98.9" r="2.55"/><circle cx="551.3" cy="100.2" r="2.55"/><circle cx="426.2" cy="66.1" r="2.55"/><circle cx="607.9" cy="78.7" r="2.55"/><circle cx="480.7" cy="160.5" r="2.55"/><circle cx="469.5" cy="132.0" r="2.55"/><circle cx="546.6" cy="102.6" r="2.55"/><circle cx="603.0" cy="77.9" r="2.55"/><circle cx="583.9" cy="60.6" r="2.55"/><circle cx="519.7" cy="169.7" r="2.55"/><circle cx="401.6" cy="106.0" r="2.55"/><circle cx="502.0" cy="191.8" r="2.55"/><circle cx="533.3" cy="192.4" r="2.55"/><circle cx="583.5" cy="70.5" r="2.55"/><circle cx="436.0" cy="39.6" r="2.55"/><circle cx="497.3" cy="196.1" r="2.55"/><circle cx="538.1" cy="143.6" r="2.55"/><circle cx="549.0" cy="122.4" r="2.55"/><circle cx="399.8" cy="118.7" r="2.55"/><circle cx="592.7" cy="59.7" r="2.55"/><circle cx="415.4" cy="71.4" r="2.55"/><circle cx="587.6" cy="45.1" r="2.55"/><circle cx="589.8" cy="81.3" r="2.55"/><circle cx="531.4" cy="159.1" r="2.55"/><circle cx="514.8" cy="194.2" r="2.55"/><circle cx="470.3" cy="148.3" r="2.55"/><circle cx="479.4" cy="141.4" r="2.55"/><circle cx="603.3" cy="97.1" r="2.55"/><circle cx="541.9" cy="146.1" r="2.55"/><circle cx="497.1" cy="210.7" r="2.55"/><circle cx="472.4" cy="144.7" r="2.55"/><circle cx="620.4" cy="128.6" r="2.55"/><circle cx="606.6" cy="82.9" r="2.55"/><circle cx="603.8" cy="103.0" r="2.55"/><circle cx="604.2" cy="79.9" r="2.55"/><circle cx="471.9" cy="162.9" r="2.55"/><circle cx="582.9" cy="71.3" r="2.55"/><circle cx="549.0" cy="124.8" r="2.55"/><circle cx="601.3" cy="56.7" r="2.55"/><circle cx="560.0" cy="77.5" r="2.55"/><circle cx="582.7" cy="30.5" r="2.55"/><circle cx="575.1" cy="36.6" r="2.55"/><circle cx="523.5" cy="187.9" r="2.55"/><circle cx="550.9" cy="100.6" r="2.55"/><circle cx="406.6" cy="93.0" r="2.55"/><circle cx="478.4" cy="169.3" r="2.55"/><circle cx="576.1" cy="44.2" r="2.55"/><circle cx="410.6" cy="52.8" r="2.55"/><circle cx="465.7" cy="123.7" r="2.55"/><circle cx="534.6" cy="146.1" r="2.55"/><circle cx="493.7" cy="180.7" r="2.55"/><circle cx="405.8" cy="81.3" r="2.55"/><circle cx="428.8" cy="56.8" r="2.55"/><circle cx="543.9" cy="146.0" r="2.55"/><circle cx="516.4" cy="175.6" r="2.55"/><circle cx="525.8" cy="183.7" r="2.55"/><circle cx="599.8" cy="98.8" r="2.55"/><circle cx="605.9" cy="92.0" r="2.55"/><circle cx="457.3" cy="99.6" r="2.55"/><circle cx="594.7" cy="55.7" r="2.55"/><circle cx="510.7" cy="184.7" r="2.55"/><circle cx="538.5" cy="137.2" r="2.55"/><circle cx="412.5" cy="86.7" r="2.55"/><circle cx="482.4" cy="159.9" r="2.55"/><circle cx="609.6" cy="94.0" r="2.55"/><circle cx="607.4" cy="87.6" r="2.55"/><circle cx="485.6" cy="186.4" r="2.55"/><circle cx="446.2" cy="50.5" r="2.55"/><circle cx="612.2" cy="90.7" r="2.55"/><circle cx="505.6" cy="181.0" r="2.55"/><circle cx="609.3" cy="95.5" r="2.55"/><circle cx="397.2" cy="111.8" r="2.55"/><circle cx="527.1" cy="152.7" r="2.55"/><circle cx="454.5" cy="121.0" r="2.55"/><circle cx="389.9" cy="133.7" r="2.55"/><circle cx="502.5" cy="197.8" r="2.55"/><circle cx="609.5" cy="87.6" r="2.55"/><circle cx="495.7" cy="193.6" r="2.55"/><circle cx="438.6" cy="44.3" r="2.55"/><circle cx="551.5" cy="139.4" r="2.55"/><circle cx="592.6" cy="40.7" r="2.55"/><circle cx="565.6" cy="72.5" r="2.55"/><circle cx="447.2" cy="65.7" r="2.55"/><circle cx="569.9" cy="80.7" r="2.55"/><circle cx="569.8" cy="53.6" r="2.55"/><circle cx="496.0" cy="194.4" r="2.55"/><circle cx="564.5" cy="75.6" r="2.55"/><circle cx="397.5" cy="132.2" r="2.55"/><circle cx="436.8" cy="57.9" r="2.55"/><circle cx="479.1" cy="157.7" r="2.55"/><circle cx="604.6" cy="120.1" r="2.55"/><circle cx="550.8" cy="112.3" r="2.55"/><circle cx="544.4" cy="132.6" r="2.55"/><circle cx="580.4" cy="49.0" r="2.55"/><circle cx="556.9" cy="107.5" r="2.55"/><circle cx="403.6" cy="88.6" r="2.55"/><circle cx="596.4" cy="50.2" r="2.55"/><circle cx="566.3" cy="92.5" r="2.55"/><circle cx="439.1" cy="36.9" r="2.55"/><circle cx="527.3" cy="164.6" r="2.55"/><circle cx="494.1" cy="190.6" r="2.55"/><circle cx="395.8" cy="134.6" r="2.55"/><circle cx="575.5" cy="97.2" r="2.55"/><circle cx="469.0" cy="118.0" r="2.55"/><circle cx="534.9" cy="159.7" r="2.55"/><circle cx="579.8" cy="74.6" r="2.55"/><circle cx="605.4" cy="69.9" r="2.55"/><circle cx="511.4" cy="179.2" r="2.55"/><circle cx="493.3" cy="183.5" r="2.55"/><circle cx="391.3" cy="148.1" r="2.55"/><circle cx="415.3" cy="105.7" r="2.55"/><circle cx="557.9" cy="76.9" r="2.55"/><circle cx="431.5" cy="64.7" r="2.55"/><circle cx="511.5" cy="195.7" r="2.55"/><circle cx="427.7" cy="29.4" r="2.55"/><circle cx="573.5" cy="75.1" r="2.55"/><circle cx="437.9" cy="62.2" r="2.55"/><circle cx="568.2" cy="84.6" r="2.55"/><circle cx="492.4" cy="173.6" r="2.55"/><circle cx="563.2" cy="92.2" r="2.55"/><circle cx="472.5" cy="158.5" r="2.55"/><circle cx="613.4" cy="85.5" r="2.55"/><circle cx="505.9" cy="214.8" r="2.55"/><circle cx="483.4" cy="154.5" r="2.55"/><circle cx="485.5" cy="144.6" r="2.55"/><circle cx="459.7" cy="112.1" r="2.55"/><circle cx="545.2" cy="110.1" r="2.55"/><circle cx="429.4" cy="61.8" r="2.55"/><circle cx="424.8" cy="38.4" r="2.55"/><circle cx="613.1" cy="101.2" r="2.55"/><circle cx="437.8" cy="80.5" r="2.55"/><circle cx="577.4" cy="58.0" r="2.55"/><circle cx="408.3" cy="79.4" r="2.55"/><circle cx="527.2" cy="179.6" r="2.55"/><circle cx="413.5" cy="77.5" r="2.55"/><circle cx="472.8" cy="165.5" r="2.55"/><circle cx="466.7" cy="143.3" r="2.55"/><circle cx="531.5" cy="148.0" r="2.55"/><circle cx="389.9" cy="157.9" r="2.55"/><circle cx="453.4" cy="89.9" r="2.55"/><circle cx="566.0" cy="77.0" r="2.55"/><circle cx="565.4" cy="88.6" r="2.55"/><circle cx="572.6" cy="43.5" r="2.55"/><circle cx="523.1" cy="164.3" r="2.55"/><circle cx="564.4" cy="90.5" r="2.55"/><circle cx="490.1" cy="177.4" r="2.55"/><circle cx="462.3" cy="100.7" r="2.55"/><circle cx="577.7" cy="91.9" r="2.55"/><circle cx="481.3" cy="160.7" r="2.55"/><circle cx="419.8" cy="70.5" r="2.55"/><circle cx="611.1" cy="94.2" r="2.55"/><circle cx="418.9" cy="80.6" r="2.55"/><circle cx="567.3" cy="86.7" r="2.55"/><circle cx="437.5" cy="73.9" r="2.55"/><circle cx="588.6" cy="85.8" r="2.55"/><circle cx="534.1" cy="149.3" r="2.55"/><circle cx="608.4" cy="84.1" r="2.55"/><circle cx="529.3" cy="166.3" r="2.55"/><circle cx="584.8" cy="37.1" r="2.55"/><circle cx="504.3" cy="164.6" r="2.55"/><circle cx="596.0" cy="69.3" r="2.55"/><circle cx="484.0" cy="197.0" r="2.55"/><circle cx="604.8" cy="78.8" r="2.55"/><circle cx="539.3" cy="138.5" r="2.55"/><circle cx="603.0" cy="62.7" r="2.55"/><circle cx="399.0" cy="107.1" r="2.55"/><circle cx="473.8" cy="123.9" r="2.55"/><circle cx="598.6" cy="99.8" r="2.55"/><circle cx="451.3" cy="82.6" r="2.55"/><circle cx="515.4" cy="194.8" r="2.55"/><circle cx="486.5" cy="183.0" r="2.55"/><circle cx="391.3" cy="152.6" r="2.55"/><circle cx="398.6" cy="110.0" r="2.55"/><circle cx="503.0" cy="167.9" r="2.55"/><circle cx="477.0" cy="165.6" r="2.55"/><circle cx="595.4" cy="74.8" r="2.55"/><circle cx="465.1" cy="121.3" r="2.55"/><circle cx="425.7" cy="79.7" r="2.55"/><circle cx="416.8" cy="63.9" r="2.55"/><circle cx="484.6" cy="161.0" r="2.55"/><circle cx="618.0" cy="122.3" r="2.55"/><circle cx="597.7" cy="106.6" r="2.55"/><circle cx="513.4" cy="161.7" r="2.55"/><circle cx="509.8" cy="190.3" r="2.55"/><circle cx="533.4" cy="154.7" r="2.55"/><circle cx="561.8" cy="88.1" r="2.55"/><circle cx="402.0" cy="104.9" r="2.55"/><circle cx="607.1" cy="120.8" r="2.55"/><circle cx="592.5" cy="68.0" r="2.55"/><circle cx="497.6" cy="186.4" r="2.55"/><circle cx="467.5" cy="112.4" r="2.55"/><circle cx="512.3" cy="160.7" r="2.55"/><circle cx="506.1" cy="205.0" r="2.55"/><circle cx="462.8" cy="89.2" r="2.55"/><circle cx="418.0" cy="65.6" r="2.55"/><circle cx="557.7" cy="82.6" r="2.55"/><circle cx="595.9" cy="89.1" r="2.55"/><circle cx="540.1" cy="131.2" r="2.55"/><circle cx="456.5" cy="118.1" r="2.55"/><circle cx="490.5" cy="169.0" r="2.55"/><circle cx="432.7" cy="85.5" r="2.55"/><circle cx="606.9" cy="90.1" r="2.55"/><circle cx="447.3" cy="88.8" r="2.55"/><circle cx="471.0" cy="132.6" r="2.55"/><circle cx="539.6" cy="134.0" r="2.55"/><circle cx="560.3" cy="84.3" r="2.55"/><circle cx="493.9" cy="194.1" r="2.55"/><circle cx="421.0" cy="49.1" r="2.55"/><circle cx="484.3" cy="159.8" r="2.55"/><circle cx="578.8" cy="76.5" r="2.55"/><circle cx="454.0" cy="82.2" r="2.55"/><circle cx="484.0" cy="180.5" r="2.55"/><circle cx="452.6" cy="90.5" r="2.55"/><circle cx="474.9" cy="150.2" r="2.55"/><circle cx="467.0" cy="129.8" r="2.55"/><circle cx="500.2" cy="176.4" r="2.55"/><circle cx="581.8" cy="93.6" r="2.55"/><circle cx="578.8" cy="40.1" r="2.55"/><circle cx="429.1" cy="93.1" r="2.55"/><circle cx="444.1" cy="53.5" r="2.55"/><circle cx="469.0" cy="123.1" r="2.55"/><circle cx="547.2" cy="144.4" r="2.55"/><circle cx="560.0" cy="80.9" r="2.55"/><circle cx="560.0" cy="92.7" r="2.55"/><circle cx="439.3" cy="89.3" r="2.55"/><circle cx="440.9" cy="49.0" r="2.55"/><circle cx="618.6" cy="98.9" r="2.55"/><circle cx="525.7" cy="163.4" r="2.55"/><circle cx="566.1" cy="45.7" r="2.55"/><circle cx="436.5" cy="62.5" r="2.55"/><circle cx="532.9" cy="159.3" r="2.55"/><circle cx="457.3" cy="79.2" r="2.55"/><circle cx="501.8" cy="203.5" r="2.55"/><circle cx="492.2" cy="167.9" r="2.55"/><circle cx="588.8" cy="43.2" r="2.55"/><circle cx="472.7" cy="138.0" r="2.55"/><circle cx="560.8" cy="83.1" r="2.55"/><circle cx="460.7" cy="102.1" r="2.55"/><circle cx="529.8" cy="157.0" r="2.55"/><circle cx="588.1" cy="74.7" r="2.55"/><circle cx="443.2" cy="62.6" r="2.55"/><circle cx="486.1" cy="181.3" r="2.55"/><circle cx="616.1" cy="137.7" r="2.55"/><circle cx="581.3" cy="43.6" r="2.55"/><circle cx="594.4" cy="75.9" r="2.55"/><circle cx="528.8" cy="159.1" r="2.55"/><circle cx="475.9" cy="136.5" r="2.55"/><circle cx="422.0" cy="44.3" r="2.55"/><circle cx="590.2" cy="80.2" r="2.55"/><circle cx="415.7" cy="66.9" r="2.55"/><circle cx="606.0" cy="71.2" r="2.55"/><circle cx="605.0" cy="74.0" r="2.55"/><circle cx="609.8" cy="112.1" r="2.55"/><circle cx="570.2" cy="74.1" r="2.55"/><circle cx="542.8" cy="117.0" r="2.55"/><circle cx="479.3" cy="138.0" r="2.55"/><circle cx="582.4" cy="66.0" r="2.55"/><circle cx="524.0" cy="138.9" r="2.55"/><circle cx="508.0" cy="164.0" r="2.55"/><circle cx="420.4" cy="65.3" r="2.55"/><circle cx="416.7" cy="59.9" r="2.55"/><circle cx="545.8" cy="139.7" r="2.55"/><circle cx="421.3" cy="47.4" r="2.55"/><circle cx="552.3" cy="92.9" r="2.55"/><circle cx="490.1" cy="166.7" r="2.55"/><circle cx="418.9" cy="77.6" r="2.55"/><circle cx="519.5" cy="186.9" r="2.55"/><circle cx="572.8" cy="49.2" r="2.55"/><circle cx="619.1" cy="101.1" r="2.55"/><circle cx="446.7" cy="80.4" r="2.55"/><circle cx="480.0" cy="165.0" r="2.55"/><circle cx="501.6" cy="200.0" r="2.55"/><circle cx="502.2" cy="167.3" r="2.55"/><circle cx="443.8" cy="77.7" r="2.55"/><circle cx="465.7" cy="134.4" r="2.55"/><circle cx="409.8" cy="112.2" r="2.55"/><circle cx="522.0" cy="209.2" r="2.55"/><circle cx="425.3" cy="25.7" r="2.55"/><circle cx="571.5" cy="22.5" r="2.55"/><circle cx="581.5" cy="23.2" r="2.55"/><circle cx="571.5" cy="27.2" r="2.55"/><circle cx="590.1" cy="27.2" r="2.55"/><circle cx="584.5" cy="29.8" r="2.55"/><circle cx="565.2" cy="32.8" r="2.55"/><circle cx="579.9" cy="35.4" r="2.55"/><circle cx="591.5" cy="37.0" r="2.55"/><circle cx="499.8" cy="254.6" r="2.55"/><circle cx="493.6" cy="246.1" r="2.55"/><circle cx="504.1" cy="238.5" r="2.55"/><circle cx="509.0" cy="236.7" r="2.55"/><circle cx="504.1" cy="231.0" r="2.55"/><circle cx="516.4" cy="232.0" r="2.55"/><circle cx="492.0" cy="223.5" r="2.55"/><circle cx="496.4" cy="223.5" r="2.55"/><circle cx="512.2" cy="226.0" r="2.55"/><circle cx="390.2" cy="158.9" r="2.55"/><circle cx="399.2" cy="158.9" r="2.55"/><circle cx="389.5" cy="139.9" r="2.55"/><circle cx="399.5" cy="135.7" r="2.55"/><circle cx="453.4" cy="148.5" r="2.55"/>
</g>
<g clip-path="url(#cr)">
<path d="M389.00 55.20 L390.16 56.99 L391.32 58.76 L392.49 60.51 L393.65 62.24 L394.81 63.96 L395.98 65.65 L397.14 67.33 L398.30 69.00 L399.46 70.64 L400.62 72.27 L401.79 73.88 L402.95 75.47 L404.11 77.04 L405.27 78.60 L406.44 80.13 L407.60 81.65 L408.76 83.16 L409.93 84.64 L411.09 86.11 L412.25 87.56 L413.41 88.99 L414.57 90.40 L415.74 91.80 L416.90 93.17 L418.06 94.53 L419.23 95.88 L420.39 97.20 L421.55 98.51 L422.71 99.80 L423.88 101.07 L425.04 102.32 L426.20 103.56 L427.36 104.77 L428.52 105.97 L429.69 107.16 L430.85 108.32 L432.01 109.47 L433.18 110.60 L434.34 111.71 L435.50 112.80 L436.66 113.88 L437.82 114.93 L438.99 115.97 L440.15 117.00 L441.31 118.00 L442.48 118.99 L443.64 119.96 L444.80 120.91 L445.96 121.84 L447.12 122.76 L448.29 123.65 L449.45 124.53 L450.61 125.40 L451.77 126.24 L452.94 127.07 L454.10 127.88 L455.26 128.67 L456.43 129.44 L457.59 130.20 L458.75 130.93 L459.91 131.65 L461.07 132.36 L462.24 133.04 L463.40 133.71 L464.56 134.36 L465.73 134.99 L466.89 135.60 L468.05 136.20 L469.21 136.77 L470.38 137.33 L471.54 137.88 L472.70 138.40 L473.86 138.91 L475.02 139.40 L476.19 139.87 L477.35 140.32 L478.51 140.76 L479.68 141.17 L480.84 141.57 L482.00 141.96 L483.16 142.32 L484.32 142.67 L485.49 143.00 L486.65 143.31 L487.81 143.60 L488.98 143.88 L490.14 144.13 L491.30 144.37 L492.46 144.60 L493.62 144.80 L494.79 144.99 L495.95 145.16 L497.11 145.31 L498.27 145.44 L499.44 145.56 L500.60 145.65 L501.76 145.73 L502.93 145.80 L504.09 145.84 L505.25 145.87 L506.41 145.88 L507.57 145.87 L508.74 145.84 L509.90 145.80 L511.06 145.73 L512.23 145.65 L513.39 145.56 L514.55 145.44 L515.71 145.31 L516.88 145.16 L518.04 144.99 L519.20 144.80 L520.36 144.60 L521.52 144.37 L522.69 144.13 L523.85 143.88 L525.01 143.60 L526.17 143.31 L527.34 143.00 L528.50 142.67 L529.66 142.32 L530.83 141.96 L531.99 141.57 L533.15 141.17 L534.31 140.76 L535.48 140.32 L536.64 139.87 L537.80 139.40 L538.96 138.91 L540.12 138.40 L541.29 137.88 L542.45 137.33 L543.61 136.77 L544.77 136.20 L545.94 135.60 L547.10 134.99 L548.26 134.36 L549.42 133.71 L550.59 133.04 L551.75 132.36 L552.91 131.65 L554.08 130.93 L555.24 130.20 L556.40 129.44 L557.56 128.67 L558.73 127.88 L559.89 127.07 L561.05 126.24 L562.21 125.40 L563.38 124.53 L564.54 123.65 L565.70 122.76 L566.86 121.84 L568.02 120.91 L569.19 119.96 L570.35 118.99 L571.51 118.00 L572.67 117.00 L573.84 115.97 L575.00 114.93 L576.16 113.88 L577.33 112.80 L578.49 111.71 L579.65 110.60 L580.81 109.47 L581.98 108.32 L583.14 107.16 L584.30 105.97 L585.46 104.77 L586.62 103.56 L587.79 102.32 L588.95 101.07 L590.11 99.80 L591.27 98.51 L592.44 97.20 L593.60 95.88 L594.76 94.53 L595.92 93.17 L597.09 91.80 L598.25 90.40 L599.41 88.99 L600.58 87.56 L601.74 86.11 L602.90 84.64 L604.06 83.16 L605.23 81.65 L606.39 80.13 L607.55 78.60 L608.71 77.04 L609.88 75.47 L611.04 73.88 L612.20 72.27 L613.36 70.64 L614.52 69.00 L615.69 67.33 L616.85 65.65 L618.01 63.96 L619.17 62.24 L620.34 60.51 L621.50 58.76" fill="none" stroke="#000000" stroke-width="0.95" stroke-linejoin="round" stroke-linecap="round" />
<path d="M389.00 96.48 L390.16 95.15 L391.32 93.91 L392.49 92.74 L393.65 91.63 L394.81 90.60 L395.98 89.62 L397.14 88.71 L398.30 87.86 L399.46 87.06 L400.62 86.32 L401.79 85.63 L402.95 84.98 L404.11 84.39 L405.27 83.83 L406.44 83.31 L407.60 82.83 L408.76 82.39 L409.93 81.98 L411.09 81.60 L412.25 81.27 L413.41 81.00 L414.57 80.78 L415.74 80.63 L416.90 80.55 L418.06 80.55 L419.23 80.64 L420.39 80.81 L421.55 81.04 L422.71 81.34 L423.88 81.69 L425.04 82.08 L426.20 82.50 L427.36 82.95 L428.52 83.43 L429.69 83.97 L430.85 84.58 L432.01 85.27 L433.18 86.06 L434.34 86.97 L435.50 88.00 L436.66 89.17 L437.82 90.45 L438.99 91.83 L440.15 93.30 L441.31 94.83 L442.48 96.41 L443.64 98.02 L444.80 99.66 L445.96 101.29 L447.12 102.94 L448.29 104.60 L449.45 106.29 L450.61 108.03 L451.77 109.82 L452.94 111.67 L454.10 113.60 L455.26 115.62 L456.43 117.73 L457.59 119.87 L458.75 122.02 L459.91 124.13 L461.07 126.17 L462.24 128.10 L463.40 129.88 L464.56 131.47 L465.73 132.92 L466.89 134.27 L468.05 135.59 L469.21 136.94 L470.38 138.37 L471.54 139.92 L472.70 141.58 L473.86 143.31 L475.02 145.09 L476.19 146.91 L477.35 148.75 L478.51 150.57 L479.68 152.38 L480.84 154.15 L482.00 155.86 L483.16 157.49 L484.32 159.04 L485.49 160.48 L486.65 161.80 L487.81 163.01 L488.98 164.13 L490.14 165.16 L491.30 166.12 L492.46 167.01 L493.62 167.84 L494.79 168.62 L495.95 169.37 L497.11 170.07 L498.27 170.71 L499.44 171.29 L500.60 171.79 L501.76 172.22 L502.93 172.55 L504.09 172.79 L505.25 172.92 L506.41 172.93 L507.57 172.82 L508.74 172.57 L509.90 172.20 L511.06 171.72 L512.23 171.11 L513.39 170.40 L514.55 169.58 L515.71 168.66 L516.88 167.65 L518.04 166.55 L519.20 165.37 L520.36 164.13 L521.52 162.83 L522.69 161.48 L523.85 160.09 L525.01 158.68 L526.17 157.25 L527.34 155.80 L528.50 154.32 L529.66 152.82 L530.83 151.30 L531.99 149.74 L533.15 148.15 L534.31 146.52 L535.48 144.85 L536.64 143.14 L537.80 141.40 L538.96 139.60 L540.12 137.77 L541.29 135.89 L542.45 133.97 L543.61 132.02 L544.77 130.03 L545.94 128.01 L547.10 125.96 L548.26 123.90 L549.42 121.81 L550.59 119.71 L551.75 117.60 L552.91 115.48 L554.08 113.36 L555.24 111.25 L556.40 109.16 L557.56 107.10 L558.73 105.06 L559.89 103.07 L561.05 101.14 L562.21 99.26 L563.38 97.45 L564.54 95.72 L565.70 94.07 L566.86 92.51 L568.02 91.04 L569.19 89.66 L570.35 88.37 L571.51 87.18 L572.67 86.09 L573.84 85.09 L575.00 84.19 L576.16 83.39 L577.33 82.69 L578.49 82.10 L579.65 81.60 L580.81 81.18 L581.98 80.85 L583.14 80.60 L584.30 80.41 L585.46 80.29 L586.62 80.23 L587.79 80.21 L588.95 80.24 L590.11 80.31 L591.27 80.42 L592.44 80.58 L593.60 80.78 L594.76 81.03 L595.92 81.34 L597.09 81.70 L598.25 82.12 L599.41 82.59 L600.58 83.13 L601.74 83.74 L602.90 84.43 L604.06 85.21 L605.23 86.09 L606.39 87.04 L607.55 88.08 L608.71 89.19 L609.88 90.37 L611.04 91.60 L612.20 92.90 L613.36 94.25 L614.52 95.64 L615.69 97.07 L616.85 98.53 L618.01 100.02 L619.17 101.53 L620.34 103.06 L621.50 104.60" fill="none" stroke="#FF0000" stroke-width="0.95" stroke-linejoin="round" stroke-linecap="round" />
<path d="M389.00 118.83 L390.16 116.71 L391.32 114.53 L392.49 112.29 L393.65 110.01 L394.81 107.71 L395.98 105.40 L397.14 103.08 L398.30 100.77 L399.46 98.49 L400.62 96.25 L401.79 94.05 L402.95 91.92 L404.11 89.86 L405.27 87.88 L406.44 86.01 L407.60 84.25 L408.76 82.62 L409.93 81.12 L411.09 79.75 L412.25 78.52 L413.41 77.40 L414.57 76.40 L415.74 75.52 L416.90 74.73 L418.06 74.05 L419.23 73.46 L420.39 72.96 L421.55 72.55 L422.71 72.24 L423.88 72.02 L425.04 71.90 L426.20 71.87 L427.36 71.95 L428.52 72.11 L429.69 72.37 L430.85 72.72 L432.01 73.16 L433.18 73.69 L434.34 74.30 L435.50 74.98 L436.66 75.75 L437.82 76.60 L438.99 77.53 L440.15 78.56 L441.31 79.67 L442.48 80.87 L443.64 82.17 L444.80 83.57 L445.96 85.07 L447.12 86.68 L448.29 88.39 L449.45 90.20 L450.61 92.13 L451.77 94.16 L452.94 96.31 L454.10 98.57 L455.26 100.95 L456.43 103.44 L457.59 106.03 L458.75 108.70 L459.91 111.46 L461.07 114.28 L462.24 117.16 L463.40 120.09 L464.56 123.04 L465.73 126.02 L466.89 129.01 L468.05 131.99 L469.21 134.90 L470.38 137.72 L471.54 140.42 L472.70 143.00 L473.86 145.49 L475.02 147.90 L476.19 150.24 L477.35 152.53 L478.51 154.77 L479.68 157.00 L480.84 159.22 L482.00 161.41 L483.16 163.58 L484.32 165.70 L485.49 167.76 L486.65 169.75 L487.81 171.65 L488.98 173.45 L490.14 175.13 L491.30 176.68 L492.46 178.10 L493.62 179.39 L494.79 180.55 L495.95 181.58 L497.11 182.48 L498.27 183.25 L499.44 183.88 L500.60 184.39 L501.76 184.77 L502.93 185.03 L504.09 185.17 L505.25 185.20 L506.41 185.11 L507.57 184.92 L508.74 184.61 L509.90 184.19 L511.06 183.65 L512.23 183.00 L513.39 182.24 L514.55 181.36 L515.71 180.36 L516.88 179.26 L518.04 178.04 L519.20 176.72 L520.36 175.29 L521.52 173.76 L522.69 172.14 L523.85 170.43 L525.01 168.62 L526.17 166.74 L527.34 164.76 L528.50 162.70 L529.66 160.55 L530.83 158.31 L531.99 155.99 L533.15 153.57 L534.31 151.06 L535.48 148.47 L536.64 145.79 L537.80 143.07 L538.96 140.33 L540.12 137.59 L541.29 134.88 L542.45 132.19 L543.61 129.51 L544.77 126.85 L545.94 124.19 L547.10 121.53 L548.26 118.87 L549.42 116.20 L550.59 113.52 L551.75 110.81 L552.91 108.08 L554.08 105.33 L555.24 102.58 L556.40 99.86 L557.56 97.18 L558.73 94.57 L559.89 92.05 L561.05 89.65 L562.21 87.40 L563.38 85.30 L564.54 83.40 L565.70 81.70 L566.86 80.22 L568.02 78.92 L569.19 77.79 L570.35 76.81 L571.51 75.96 L572.67 75.22 L573.84 74.57 L575.00 73.98 L576.16 73.45 L577.33 72.98 L578.49 72.56 L579.65 72.20 L580.81 71.91 L581.98 71.69 L583.14 71.55 L584.30 71.49 L585.46 71.52 L586.62 71.63 L587.79 71.84 L588.95 72.14 L590.11 72.54 L591.27 73.05 L592.44 73.66 L593.60 74.38 L594.76 75.22 L595.92 76.17 L597.09 77.24 L598.25 78.42 L599.41 79.71 L600.58 81.12 L601.74 82.63 L602.90 84.24 L604.06 85.97 L605.23 87.79 L606.39 89.71 L607.55 91.73 L608.71 93.84 L609.88 96.04 L611.04 98.33 L612.20 100.70 L613.36 103.15 L614.52 105.68 L615.69 108.28 L616.85 110.95 L618.01 113.69 L619.17 116.49 L620.34 119.36 L621.50 122.28" fill="none" stroke="#00CD00" stroke-width="0.95" stroke-linejoin="round" stroke-linecap="round" />
<path d="M389.00 120.00 L390.16 118.47 L391.32 116.70 L392.49 114.72 L393.65 112.59 L394.81 110.33 L395.98 108.00 L397.14 105.62 L398.30 103.22 L399.46 100.82 L400.62 98.44 L401.79 96.08 L402.95 93.75 L404.11 91.46 L405.27 89.20 L406.44 86.99 L407.60 84.84 L408.76 82.75 L409.93 80.73 L411.09 78.81 L412.25 77.02 L413.41 75.38 L414.57 73.90 L415.74 72.62 L416.90 71.55 L418.06 70.69 L419.23 70.04 L420.39 69.58 L421.55 69.29 L422.71 69.16 L423.88 69.13 L425.04 69.20 L426.20 69.34 L427.36 69.52 L428.52 69.74 L429.69 70.00 L430.85 70.30 L432.01 70.65 L433.18 71.05 L434.34 71.53 L435.50 72.06 L436.66 72.67 L437.82 73.33 L438.99 74.07 L440.15 74.87 L441.31 75.73 L442.48 76.67 L443.64 77.67 L444.80 78.76 L445.96 79.93 L447.12 81.22 L448.29 82.64 L449.45 84.23 L450.61 86.01 L451.77 88.01 L452.94 90.24 L454.10 92.71 L455.26 95.42 L456.43 98.33 L457.59 101.42 L458.75 104.67 L459.91 108.05 L461.07 111.51 L462.24 115.01 L463.40 118.51 L464.56 121.95 L465.73 125.30 L466.89 128.53 L468.05 131.64 L469.21 134.68 L470.38 137.70 L471.54 140.71 L472.70 143.71 L473.86 146.71 L475.02 149.69 L476.19 152.63 L477.35 155.53 L478.51 158.36 L479.68 161.10 L480.84 163.74 L482.00 166.28 L483.16 168.70 L484.32 171.00 L485.49 173.18 L486.65 175.24 L487.81 177.17 L488.98 178.98 L490.14 180.64 L491.30 182.16 L492.46 183.53 L493.62 184.73 L494.79 185.77 L495.95 186.64 L497.11 187.35 L498.27 187.89 L499.44 188.29 L500.60 188.55 L501.76 188.72 L502.93 188.80 L504.09 188.83 L505.25 188.83 L506.41 188.79 L507.57 188.72 L508.74 188.60 L509.90 188.41 L511.06 188.11 L512.23 187.68 L513.39 187.10 L514.55 186.36 L515.71 185.44 L516.88 184.36 L518.04 183.10 L519.20 181.69 L520.36 180.12 L521.52 178.42 L522.69 176.58 L523.85 174.63 L525.01 172.57 L526.17 170.39 L527.34 168.12 L528.50 165.74 L529.66 163.26 L530.83 160.67 L531.99 157.99 L533.15 155.21 L534.31 152.35 L535.48 149.43 L536.64 146.49 L537.80 143.53 L538.96 140.59 L540.12 137.68 L541.29 134.80 L542.45 131.91 L543.61 128.97 L544.77 125.96 L545.94 122.84 L547.10 119.59 L548.26 116.24 L549.42 112.86 L550.59 109.51 L551.75 106.26 L552.91 103.17 L554.08 100.28 L555.24 97.59 L556.40 95.07 L557.56 92.71 L558.73 90.49 L559.89 88.36 L561.05 86.31 L562.21 84.32 L563.38 82.38 L564.54 80.51 L565.70 78.75 L566.86 77.14 L568.02 75.71 L569.19 74.49 L570.35 73.47 L571.51 72.67 L572.67 72.06 L573.84 71.60 L575.00 71.26 L576.16 70.98 L577.33 70.74 L578.49 70.52 L579.65 70.30 L580.81 70.10 L581.98 69.89 L583.14 69.69 L584.30 69.50 L585.46 69.34 L586.62 69.26 L587.79 69.32 L588.95 69.57 L590.11 70.07 L591.27 70.86 L592.44 71.88 L593.60 73.06 L594.76 74.33 L595.92 75.68 L597.09 77.08 L598.25 78.51 L599.41 79.98 L600.58 81.50 L601.74 83.08 L602.90 84.74 L604.06 86.51 L605.23 88.40 L606.39 90.41 L607.55 92.56 L608.71 94.84 L609.88 97.27 L611.04 99.84 L612.20 102.59 L613.36 105.54 L614.52 108.70 L615.69 112.08 L616.85 115.66 L618.01 119.41 L619.17 123.28 L620.34 127.24 L621.50 131.25" fill="none" stroke="#0000FF" stroke-width="0.95" stroke-linejoin="round" stroke-linecap="round" />
<path d="M389.00 121.36 L390.16 119.53 L391.32 117.52 L392.49 115.36 L393.65 113.08 L394.81 110.71 L395.98 108.30 L397.14 105.86 L398.30 103.41 L399.46 100.98 L400.62 98.57 L401.79 96.19 L402.95 93.84 L404.11 91.53 L405.27 89.27 L406.44 87.04 L407.60 84.87 L408.76 82.75 L409.93 80.71 L411.09 78.75 L412.25 76.91 L413.41 75.21 L414.57 73.67 L415.74 72.32 L416.90 71.16 L418.06 70.21 L419.23 69.47 L420.39 68.92 L421.55 68.55 L422.71 68.33 L423.88 68.25 L425.04 68.29 L426.20 68.41 L427.36 68.60 L428.52 68.85 L429.69 69.16 L430.85 69.53 L432.01 69.95 L433.18 70.44 L434.34 70.99 L435.50 71.59 L436.66 72.26 L437.82 72.98 L438.99 73.76 L440.15 74.59 L441.31 75.48 L442.48 76.43 L443.64 77.44 L444.80 78.53 L445.96 79.70 L447.12 80.97 L448.29 82.38 L449.45 83.95 L450.61 85.72 L451.77 87.70 L452.94 89.94 L454.10 92.43 L455.26 95.15 L456.43 98.09 L457.59 101.23 L458.75 104.52 L459.91 107.94 L461.07 111.46 L462.24 115.01 L463.40 118.56 L464.56 122.04 L465.73 125.41 L466.89 128.63 L468.05 131.71 L469.21 134.72 L470.38 137.70 L471.54 140.70 L472.70 143.71 L473.86 146.73 L475.02 149.73 L476.19 152.70 L477.35 155.62 L478.51 158.47 L479.68 161.24 L480.84 163.90 L482.00 166.45 L483.16 168.89 L484.32 171.20 L485.49 173.40 L486.65 175.48 L487.81 177.43 L488.98 179.26 L490.14 180.97 L491.30 182.53 L492.46 183.96 L493.62 185.24 L494.79 186.36 L495.95 187.32 L497.11 188.13 L498.27 188.78 L499.44 189.29 L500.60 189.67 L501.76 189.94 L502.93 190.10 L504.09 190.19 L505.25 190.21 L506.41 190.16 L507.57 190.04 L508.74 189.84 L509.90 189.55 L511.06 189.14 L512.23 188.59 L513.39 187.89 L514.55 187.04 L515.71 186.02 L516.88 184.84 L518.04 183.51 L519.20 182.03 L520.36 180.41 L521.52 178.66 L522.69 176.79 L523.85 174.81 L525.01 172.73 L526.17 170.54 L527.34 168.26 L528.50 165.87 L529.66 163.39 L530.83 160.79 L531.99 158.09 L533.15 155.29 L534.31 152.41 L535.48 149.46 L536.64 146.49 L537.80 143.52 L538.96 140.57 L540.12 137.66 L541.29 134.81 L542.45 131.95 L543.61 129.06 L544.77 126.07 L545.94 122.95 L547.10 119.66 L548.26 116.26 L549.42 112.81 L550.59 109.38 L551.75 106.07 L552.91 102.93 L554.08 100.03 L555.24 97.35 L556.40 94.86 L557.56 92.53 L558.73 90.34 L559.89 88.24 L561.05 86.22 L562.21 84.23 L563.38 82.27 L564.54 80.37 L565.70 78.56 L566.86 76.90 L568.02 75.42 L569.19 74.15 L570.35 73.09 L571.51 72.25 L572.67 71.62 L573.84 71.14 L575.00 70.78 L576.16 70.48 L577.33 70.23 L578.49 69.98 L579.65 69.74 L580.81 69.50 L581.98 69.26 L583.14 69.01 L584.30 68.76 L585.46 68.56 L586.62 68.46 L587.79 68.54 L588.95 68.86 L590.11 69.49 L591.27 70.44 L592.44 71.63 L593.60 72.94 L594.76 74.30 L595.92 75.69 L597.09 77.10 L598.25 78.53 L599.41 79.98 L600.58 81.47 L601.74 83.02 L602.90 84.66 L604.06 86.42 L605.23 88.30 L606.39 90.31 L607.55 92.44 L608.71 94.72 L609.88 97.13 L611.04 99.67 L612.20 102.39 L613.36 105.32 L614.52 108.47 L615.69 111.87 L616.85 115.52 L618.01 119.41 L619.17 123.51 L620.34 127.82 L621.50 132.32" fill="none" stroke="#00FFFF" stroke-width="0.95" stroke-linejoin="round" stroke-linecap="round" />
<path d="M389.00 122.72 L390.16 120.59 L391.32 118.34 L392.49 115.99 L393.65 113.57 L394.81 111.09 L395.98 108.60 L397.14 106.09 L398.30 103.60 L399.46 101.13 L400.62 98.70 L401.79 96.30 L402.95 93.93 L404.11 91.61 L405.27 89.33 L406.44 87.09 L407.60 84.90 L408.76 82.76 L409.93 80.68 L411.09 78.69 L412.25 76.80 L413.41 75.04 L414.57 73.43 L415.74 72.00 L416.90 70.76 L418.06 69.71 L419.23 68.87 L420.39 68.23 L421.55 67.76 L422.71 67.47 L423.88 67.33 L425.04 67.33 L426.20 67.44 L427.36 67.64 L428.52 67.94 L429.69 68.30 L430.85 68.74 L432.01 69.24 L433.18 69.81 L434.34 70.44 L435.50 71.12 L436.66 71.85 L437.82 72.62 L438.99 73.44 L440.15 74.31 L441.31 75.22 L442.48 76.19 L443.64 77.21 L444.80 78.30 L445.96 79.46 L447.12 80.72 L448.29 82.11 L449.45 83.66 L450.61 85.41 L451.77 87.39 L452.94 89.63 L454.10 92.13 L455.26 94.88 L456.43 97.86 L457.59 101.03 L458.75 104.37 L459.91 107.84 L461.07 111.41 L462.24 115.02 L463.40 118.61 L464.56 122.13 L465.73 125.52 L466.89 128.73 L468.05 131.79 L469.21 134.76 L470.38 137.71 L471.54 140.70 L472.70 143.72 L473.86 146.74 L475.02 149.76 L476.19 152.76 L477.35 155.71 L478.51 158.59 L479.68 161.38 L480.84 164.06 L482.00 166.63 L483.16 169.08 L484.32 171.41 L485.49 173.62 L486.65 175.72 L487.81 177.70 L488.98 179.56 L490.14 181.30 L491.30 182.92 L492.46 184.40 L493.62 185.75 L494.79 186.96 L495.95 188.02 L497.11 188.93 L498.27 189.70 L499.44 190.33 L500.60 190.83 L501.76 191.20 L502.93 191.45 L504.09 191.59 L505.25 191.63 L506.41 191.57 L507.57 191.40 L508.74 191.12 L509.90 190.73 L511.06 190.20 L512.23 189.53 L513.39 188.70 L514.55 187.73 L515.71 186.60 L516.88 185.33 L518.04 183.92 L519.20 182.37 L520.36 180.70 L521.52 178.91 L522.69 177.01 L523.85 175.00 L525.01 172.89 L526.17 170.70 L527.34 168.40 L528.50 166.01 L529.66 163.52 L530.83 160.91 L531.99 158.20 L533.15 155.38 L534.31 152.47 L535.48 149.49 L536.64 146.49 L537.80 143.50 L538.96 140.54 L540.12 137.64 L541.29 134.82 L542.45 132.00 L543.61 129.14 L544.77 126.18 L545.94 123.06 L547.10 119.74 L548.26 116.28 L549.42 112.75 L550.59 109.25 L551.75 105.87 L552.91 102.69 L554.08 99.78 L555.24 97.10 L556.40 94.64 L557.56 92.34 L558.73 90.19 L559.89 88.12 L561.05 86.12 L562.21 84.14 L563.38 82.16 L564.54 80.22 L565.70 78.37 L566.86 76.66 L568.02 75.12 L569.19 73.79 L570.35 72.69 L571.51 71.81 L572.67 71.15 L573.84 70.66 L575.00 70.28 L576.16 69.98 L577.33 69.71 L578.49 69.45 L579.65 69.18 L580.81 68.91 L581.98 68.62 L583.14 68.31 L584.30 67.99 L585.46 67.72 L586.62 67.59 L587.79 67.69 L588.95 68.09 L590.11 68.85 L591.27 69.99 L592.44 71.37 L593.60 72.82 L594.76 74.26 L595.92 75.70 L597.09 77.13 L598.25 78.55 L599.41 79.98 L600.58 81.44 L601.74 82.96 L602.90 84.58 L604.06 86.32 L605.23 88.19 L606.39 90.19 L607.55 92.33 L608.71 94.59 L609.88 96.98 L611.04 99.50 L612.20 102.19 L613.36 105.09 L614.52 108.23 L615.69 111.66 L616.85 115.38 L618.01 119.41 L619.17 123.75 L620.34 128.41 L621.50 133.39" fill="none" stroke="#FF00FF" stroke-width="0.95" stroke-linejoin="round" stroke-linecap="round" />
<path d="M389.00 124.08 L390.16 121.65 L391.32 119.16 L392.49 116.62 L393.65 114.05 L394.81 111.47 L395.98 108.89 L397.14 106.32 L398.30 103.79 L399.46 101.29 L400.62 98.82 L401.79 96.40 L402.95 94.02 L404.11 91.68 L405.27 89.38 L406.44 87.13 L407.60 84.92 L408.76 82.76 L409.93 80.65 L411.09 78.62 L412.25 76.68 L413.41 74.86 L414.57 73.18 L415.74 71.66 L416.90 70.33 L418.06 69.19 L419.23 68.25 L420.39 67.50 L421.55 66.94 L422.71 66.57 L423.88 66.37 L425.04 66.32 L426.20 66.42 L427.36 66.65 L428.52 66.99 L429.69 67.41 L430.85 67.93 L432.01 68.52 L433.18 69.18 L434.34 69.89 L435.50 70.64 L436.66 71.43 L437.82 72.26 L438.99 73.12 L440.15 74.02 L441.31 74.96 L442.48 75.95 L443.64 76.98 L444.80 78.07 L445.96 79.22 L447.12 80.46 L448.29 81.84 L449.45 83.37 L450.61 85.11 L451.77 87.08 L452.94 89.32 L454.10 91.84 L455.26 94.61 L456.43 97.62 L457.59 100.83 L458.75 104.21 L459.91 107.73 L461.07 111.36 L462.24 115.02 L463.40 118.66 L464.56 122.22 L465.73 125.63 L466.89 128.83 L468.05 131.86 L469.21 134.79 L470.38 137.72 L471.54 140.70 L472.70 143.72 L473.86 146.76 L475.02 149.80 L476.19 152.82 L477.35 155.80 L478.51 158.71 L479.68 161.52 L480.84 164.22 L482.00 166.81 L483.16 169.27 L484.32 171.62 L485.49 173.85 L486.65 175.96 L487.81 177.96 L488.98 179.86 L490.14 181.64 L491.30 183.31 L492.46 184.85 L493.62 186.28 L494.79 187.57 L495.95 188.73 L497.11 189.76 L498.27 190.64 L499.44 191.40 L500.60 192.01 L501.76 192.50 L502.93 192.84 L504.09 193.05 L505.25 193.11 L506.41 193.03 L507.57 192.81 L508.74 192.45 L509.90 191.94 L511.06 191.29 L512.23 190.49 L513.39 189.54 L514.55 188.44 L515.71 187.20 L516.88 185.84 L518.04 184.34 L519.20 182.73 L520.36 181.00 L521.52 179.16 L522.69 177.22 L523.85 175.19 L525.01 173.06 L526.17 170.85 L527.34 168.55 L528.50 166.15 L529.66 163.65 L530.83 161.04 L531.99 158.31 L533.15 155.47 L534.31 152.52 L535.48 149.52 L536.64 146.49 L537.80 143.48 L538.96 140.51 L540.12 137.63 L541.29 134.83 L542.45 132.05 L543.61 129.22 L544.77 126.29 L545.94 123.17 L547.10 119.82 L548.26 116.30 L549.42 112.69 L550.59 109.12 L551.75 105.67 L552.91 102.45 L554.08 99.52 L555.24 96.85 L556.40 94.41 L557.56 92.16 L558.73 90.03 L559.89 88.00 L561.05 86.02 L562.21 84.04 L563.38 82.05 L564.54 80.07 L565.70 78.17 L566.86 76.40 L568.02 74.80 L569.19 73.42 L570.35 72.26 L571.51 71.35 L572.67 70.66 L573.84 70.16 L575.00 69.77 L576.16 69.47 L577.33 69.19 L578.49 68.92 L579.65 68.63 L580.81 68.32 L581.98 67.97 L583.14 67.59 L584.30 67.18 L585.46 66.84 L586.62 66.66 L587.79 66.77 L588.95 67.26 L590.11 68.17 L591.27 69.51 L592.44 71.10 L593.60 72.70 L594.76 74.24 L595.92 75.72 L597.09 77.16 L598.25 78.57 L599.41 79.97 L600.58 81.41 L601.74 82.90 L602.90 84.49 L604.06 86.22 L605.23 88.08 L606.39 90.08 L607.55 92.21 L608.71 94.46 L609.88 96.84 L611.04 99.33 L612.20 101.98 L613.36 104.85 L614.52 107.99 L615.69 111.44 L616.85 115.23 L618.01 119.41 L619.17 124.00 L620.34 129.01 L621.50 134.49" fill="none" stroke="#BEBEBE" stroke-width="0.95" stroke-linejoin="round" stroke-linecap="round" />
<path d="M389.00 125.21 L390.16 122.53 L391.32 119.84 L392.49 117.14 L393.65 114.45 L394.81 111.78 L395.98 109.13 L397.14 106.52 L398.30 103.94 L399.46 101.41 L400.62 98.93 L401.79 96.49 L402.95 94.09 L404.11 91.74 L405.27 89.43 L406.44 87.17 L407.60 84.94 L408.76 82.76 L409.93 80.63 L411.09 78.56 L412.25 76.57 L413.41 74.70 L414.57 72.96 L415.74 71.37 L416.90 69.95 L418.06 68.71 L419.23 67.66 L420.39 66.79 L421.55 66.10 L422.71 65.57 L423.88 65.19 L425.04 64.97 L426.20 64.90 L427.36 64.96 L428.52 65.16 L429.69 65.49 L430.85 65.97 L432.01 66.60 L433.18 67.37 L434.34 68.26 L435.50 69.23 L436.66 70.25 L437.82 71.30 L438.99 72.37 L440.15 73.45 L441.31 74.52 L442.48 75.60 L443.64 76.70 L444.80 77.83 L445.96 78.99 L447.12 80.24 L448.29 81.60 L449.45 83.12 L450.61 84.84 L451.77 86.81 L452.94 89.05 L454.10 91.58 L455.26 94.38 L456.43 97.42 L457.59 100.66 L458.75 104.08 L459.91 107.64 L461.07 111.31 L462.24 115.03 L463.40 118.71 L464.56 122.30 L465.73 125.72 L466.89 128.92 L468.05 131.92 L469.21 134.82 L470.38 137.73 L471.54 140.70 L472.70 143.72 L473.86 146.77 L475.02 149.83 L476.19 152.88 L477.35 155.87 L478.51 158.81 L479.68 161.64 L480.84 164.36 L482.00 166.96 L483.16 169.43 L484.32 171.79 L485.49 174.04 L486.65 176.17 L487.81 178.19 L488.98 180.11 L490.14 181.93 L491.30 183.64 L492.46 185.24 L493.62 186.73 L494.79 188.09 L495.95 189.34 L497.11 190.46 L498.27 191.45 L499.44 192.31 L500.60 193.03 L501.76 193.61 L502.93 194.03 L504.09 194.29 L505.25 194.38 L506.41 194.29 L507.57 194.02 L508.74 193.58 L509.90 192.98 L511.06 192.22 L512.23 191.31 L513.39 190.24 L514.55 189.04 L515.71 187.71 L516.88 186.27 L518.04 184.70 L519.20 183.03 L520.36 181.25 L521.52 179.38 L522.69 177.41 L523.85 175.35 L525.01 173.21 L526.17 170.98 L527.34 168.67 L528.50 166.27 L529.66 163.76 L530.83 161.14 L531.99 158.40 L533.15 155.54 L534.31 152.57 L535.48 149.55 L536.64 146.50 L537.80 143.46 L538.96 140.49 L540.12 137.61 L541.29 134.83 L542.45 132.09 L543.61 129.30 L544.77 126.38 L545.94 123.27 L547.10 119.89 L548.26 116.31 L549.42 112.65 L550.59 109.00 L551.75 105.50 L552.91 102.24 L554.08 99.30 L555.24 96.64 L556.40 94.22 L557.56 91.99 L558.73 89.90 L559.89 87.90 L561.05 85.94 L562.21 83.96 L563.38 81.95 L564.54 79.94 L565.70 78.00 L566.86 76.17 L568.02 74.50 L569.19 73.03 L570.35 71.75 L571.51 70.67 L572.67 69.74 L573.84 68.93 L575.00 68.19 L576.16 67.55 L577.33 67.03 L578.49 66.65 L579.65 66.44 L580.81 66.34 L581.98 66.29 L583.14 66.19 L584.30 65.99 L585.46 65.77 L586.62 65.69 L587.79 65.88 L588.95 66.48 L590.11 67.56 L591.27 69.09 L592.44 70.86 L593.60 72.60 L594.76 74.22 L595.92 75.74 L597.09 77.18 L598.25 78.58 L599.41 79.97 L600.58 81.38 L601.74 82.84 L602.90 84.42 L604.06 86.13 L605.23 87.98 L606.39 89.98 L607.55 92.10 L608.71 94.35 L609.88 96.71 L611.04 99.18 L612.20 101.81 L613.36 104.65 L614.52 107.78 L615.69 111.25 L616.85 115.11 L618.01 119.41 L619.17 124.20 L620.34 129.52 L621.50 135.41" fill="none" stroke="#000000" stroke-width="0.95" stroke-linejoin="round" stroke-linecap="round" />
<path d="M389.00 126.12 L390.16 123.24 L391.32 120.38 L392.49 117.56 L393.65 114.77 L394.81 112.02 L395.98 109.32 L397.14 106.67 L398.30 104.06 L399.46 101.51 L400.62 99.01 L401.79 96.55 L402.95 94.15 L404.11 91.79 L405.27 89.47 L406.44 87.19 L407.60 84.96 L408.76 82.76 L409.93 80.60 L411.09 78.50 L412.25 76.48 L413.41 74.57 L414.57 72.77 L415.74 71.13 L416.90 69.64 L418.06 68.33 L419.23 67.21 L420.39 66.27 L421.55 65.51 L422.71 64.92 L423.88 64.50 L425.04 64.26 L426.20 64.18 L427.36 64.26 L428.52 64.49 L429.69 64.87 L430.85 65.41 L432.01 66.10 L433.18 66.94 L434.34 67.88 L435.50 68.90 L436.66 69.97 L437.82 71.06 L438.99 72.16 L440.15 73.25 L441.31 74.35 L442.48 75.44 L443.64 76.54 L444.80 77.67 L445.96 78.83 L447.12 80.06 L448.29 81.41 L449.45 82.92 L450.61 84.63 L451.77 86.59 L452.94 88.84 L454.10 91.38 L455.26 94.19 L456.43 97.25 L457.59 100.52 L458.75 103.97 L459.91 107.57 L461.07 111.28 L462.24 115.03 L463.40 118.75 L464.56 122.36 L465.73 125.80 L466.89 128.99 L468.05 131.97 L469.21 134.85 L470.38 137.73 L471.54 140.70 L472.70 143.72 L473.86 146.78 L475.02 149.86 L476.19 152.92 L477.35 155.94 L478.51 158.89 L479.68 161.74 L480.84 164.47 L482.00 167.08 L483.16 169.57 L484.32 171.94 L485.49 174.19 L486.65 176.34 L487.81 178.38 L488.98 180.32 L490.14 182.16 L491.30 183.91 L492.46 185.55 L493.62 187.09 L494.79 188.52 L495.95 189.83 L497.11 191.03 L498.27 192.10 L499.44 193.05 L500.60 193.86 L501.76 194.52 L502.93 195.01 L504.09 195.32 L505.25 195.43 L506.41 195.32 L507.57 195.01 L508.74 194.51 L509.90 193.83 L511.06 192.98 L512.23 191.98 L513.39 190.82 L514.55 189.53 L515.71 188.13 L516.88 186.61 L518.04 184.99 L519.20 183.27 L520.36 181.46 L521.52 179.55 L522.69 177.56 L523.85 175.48 L525.01 173.32 L526.17 171.09 L527.34 168.77 L528.50 166.36 L529.66 163.85 L530.83 161.22 L531.99 158.48 L533.15 155.60 L534.31 152.61 L535.48 149.57 L536.64 146.50 L537.80 143.45 L538.96 140.47 L540.12 137.60 L541.29 134.84 L542.45 132.12 L543.61 129.36 L544.77 126.46 L545.94 123.34 L547.10 119.94 L548.26 116.33 L549.42 112.61 L550.59 108.91 L551.75 105.36 L552.91 102.07 L554.08 99.12 L555.24 96.47 L556.40 94.07 L557.56 91.86 L558.73 89.80 L559.89 87.82 L561.05 85.87 L562.21 83.90 L563.38 81.87 L564.54 79.84 L565.70 77.86 L566.86 75.99 L568.02 74.28 L569.19 72.76 L570.35 71.45 L571.51 70.33 L572.67 69.39 L573.84 68.57 L575.00 67.84 L576.16 67.20 L577.33 66.68 L578.49 66.30 L579.65 66.07 L580.81 65.95 L581.98 65.85 L583.14 65.69 L584.30 65.41 L585.46 65.13 L586.62 64.99 L587.79 65.19 L588.95 65.86 L590.11 67.05 L591.27 68.74 L592.44 70.67 L593.60 72.52 L594.76 74.20 L595.92 75.75 L597.09 77.21 L598.25 78.60 L599.41 79.96 L600.58 81.35 L601.74 82.80 L602.90 84.35 L604.06 86.05 L605.23 87.91 L606.39 89.90 L607.55 92.02 L608.71 94.26 L609.88 96.61 L611.04 99.06 L612.20 101.66 L613.36 104.49 L614.52 107.61 L615.69 111.10 L616.85 115.01 L618.01 119.41 L619.17 124.36 L620.34 129.93 L621.50 136.16" fill="none" stroke="#FF0000" stroke-width="0.95" stroke-linejoin="round" stroke-linecap="round" />
<path d="M389.00 126.91 L390.16 123.85 L391.32 120.86 L392.49 117.92 L393.65 115.05 L394.81 112.24 L395.98 109.49 L397.14 106.80 L398.30 104.17 L399.46 101.59 L400.62 99.08 L401.79 96.61 L402.95 94.19 L404.11 91.82 L405.27 89.50 L406.44 87.21 L407.60 84.97 L408.76 82.76 L409.93 80.58 L411.09 78.46 L412.25 76.40 L413.41 74.45 L414.57 72.61 L415.74 70.91 L416.90 69.37 L418.06 68.00 L419.23 66.81 L420.39 65.80 L421.55 64.98 L422.71 64.34 L423.88 63.88 L425.04 63.61 L426.20 63.53 L427.36 63.63 L428.52 63.89 L429.69 64.32 L430.85 64.91 L432.01 65.66 L433.18 66.55 L434.34 67.55 L435.50 68.62 L436.66 69.72 L437.82 70.85 L438.99 71.97 L440.15 73.08 L441.31 74.19 L442.48 75.29 L443.64 76.40 L444.80 77.52 L445.96 78.68 L447.12 79.90 L448.29 81.24 L449.45 82.74 L450.61 84.44 L451.77 86.40 L452.94 88.65 L454.10 91.20 L455.26 94.03 L456.43 97.11 L457.59 100.40 L458.75 103.88 L459.91 107.51 L461.07 111.25 L462.24 115.03 L463.40 118.78 L464.56 122.42 L465.73 125.86 L466.89 129.05 L468.05 132.02 L469.21 134.87 L470.38 137.74 L471.54 140.69 L472.70 143.72 L473.86 146.79 L475.02 149.88 L476.19 152.96 L477.35 155.99 L478.51 158.96 L479.68 161.83 L480.84 164.57 L482.00 167.19 L483.16 169.68 L484.32 172.06 L485.49 174.33 L486.65 176.48 L487.81 178.54 L488.98 180.50 L490.14 182.37 L491.30 184.14 L492.46 185.83 L493.62 187.41 L494.79 188.89 L495.95 190.27 L497.11 191.53 L498.27 192.68 L499.44 193.71 L500.60 194.60 L501.76 195.33 L502.93 195.88 L504.09 196.23 L505.25 196.36 L506.41 196.24 L507.57 195.90 L508.74 195.34 L509.90 194.59 L511.06 193.66 L512.23 192.57 L513.39 191.33 L514.55 189.97 L515.71 188.49 L516.88 186.92 L518.04 185.25 L519.20 183.49 L520.36 181.64 L521.52 179.70 L522.69 177.69 L523.85 175.59 L525.01 173.43 L526.17 171.18 L527.34 168.86 L528.50 166.45 L529.66 163.93 L530.83 161.30 L531.99 158.54 L533.15 155.65 L534.31 152.65 L535.48 149.58 L536.64 146.50 L537.80 143.44 L538.96 140.45 L540.12 137.59 L541.29 134.85 L542.45 132.15 L543.61 129.41 L544.77 126.53 L545.94 123.41 L547.10 119.99 L548.26 116.34 L549.42 112.57 L550.59 108.83 L551.75 105.24 L552.91 101.92 L554.08 98.97 L555.24 96.32 L556.40 93.94 L557.56 91.75 L558.73 89.70 L559.89 87.74 L561.05 85.81 L562.21 83.84 L563.38 81.81 L564.54 79.75 L565.70 77.73 L566.86 75.82 L568.02 74.08 L569.19 72.52 L570.35 71.18 L571.51 70.04 L572.67 69.08 L573.84 68.25 L575.00 67.52 L576.16 66.88 L577.33 66.37 L578.49 65.99 L579.65 65.75 L580.81 65.61 L581.98 65.47 L583.14 65.25 L584.30 64.90 L585.46 64.54 L586.62 64.36 L587.79 64.56 L588.95 65.28 L590.11 66.58 L591.27 68.42 L592.44 70.50 L593.60 72.45 L594.76 74.19 L595.92 75.77 L597.09 77.23 L598.25 78.61 L599.41 79.96 L600.58 81.33 L601.74 82.76 L602.90 84.30 L604.06 85.99 L605.23 87.84 L606.39 89.83 L607.55 91.95 L608.71 94.18 L609.88 96.52 L611.04 98.95 L612.20 101.54 L613.36 104.35 L614.52 107.46 L615.69 110.96 L616.85 114.92 L618.01 119.41 L619.17 124.51 L620.34 130.29 L621.50 136.82" fill="none" stroke="#00CD00" stroke-width="0.95" stroke-linejoin="round" stroke-linecap="round" />
<path d="M389.00 127.48 L390.16 124.29 L391.32 121.19 L392.49 118.18 L393.65 115.25 L394.81 112.39 L395.98 109.60 L397.14 106.89 L398.30 104.24 L399.46 101.65 L400.62 99.12 L401.79 96.65 L402.95 94.23 L404.11 91.85 L405.27 89.52 L406.44 87.23 L407.60 84.97 L408.76 82.75 L409.93 80.56 L411.09 78.42 L412.25 76.35 L413.41 74.36 L414.57 72.49 L415.74 70.76 L416.90 69.18 L418.06 67.77 L419.23 66.56 L420.39 65.54 L421.55 64.73 L422.71 64.13 L423.88 63.76 L425.04 63.62 L426.20 63.71 L427.36 64.00 L428.52 64.46 L429.69 65.08 L430.85 65.81 L432.01 66.64 L433.18 67.54 L434.34 68.47 L435.50 69.43 L436.66 70.38 L437.82 71.34 L438.99 72.31 L440.15 73.29 L441.31 74.30 L442.48 75.32 L443.64 76.38 L444.80 77.47 L445.96 78.60 L447.12 79.80 L448.29 81.12 L449.45 82.61 L450.61 84.31 L451.77 86.26 L452.94 88.51 L454.10 91.07 L455.26 93.91 L456.43 97.00 L457.59 100.31 L458.75 103.81 L459.91 107.46 L461.07 111.23 L462.24 115.03 L463.40 118.80 L464.56 122.46 L465.73 125.91 L466.89 129.10 L468.05 132.05 L469.21 134.89 L470.38 137.74 L471.54 140.69 L472.70 143.72 L473.86 146.80 L475.02 149.90 L476.19 152.98 L477.35 156.03 L478.51 159.01 L479.68 161.89 L480.84 164.64 L482.00 167.27 L483.16 169.77 L484.32 172.15 L485.49 174.43 L486.65 176.59 L487.81 178.66 L488.98 180.63 L490.14 182.52 L491.30 184.31 L492.46 186.03 L493.62 187.64 L494.79 189.16 L495.95 190.58 L497.11 191.90 L498.27 193.10 L499.44 194.18 L500.60 195.13 L501.76 195.92 L502.93 196.51 L504.09 196.89 L505.25 197.03 L506.41 196.91 L507.57 196.54 L508.74 195.94 L509.90 195.14 L511.06 194.15 L512.23 193.00 L513.39 191.70 L514.55 190.28 L515.71 188.76 L516.88 187.14 L518.04 185.44 L519.20 183.65 L520.36 181.77 L521.52 179.82 L522.69 177.78 L523.85 175.68 L525.01 173.50 L526.17 171.25 L527.34 168.93 L528.50 166.51 L529.66 163.99 L530.83 161.35 L531.99 158.59 L533.15 155.69 L534.31 152.68 L535.48 149.60 L536.64 146.50 L537.80 143.43 L538.96 140.44 L540.12 137.58 L541.29 134.85 L542.45 132.17 L543.61 129.45 L544.77 126.57 L545.94 123.46 L547.10 120.03 L548.26 116.35 L549.42 112.55 L550.59 108.77 L551.75 105.15 L552.91 101.82 L554.08 98.85 L555.24 96.21 L556.40 93.84 L557.56 91.67 L558.73 89.64 L559.89 87.69 L561.05 85.76 L562.21 83.80 L563.38 81.76 L564.54 79.68 L565.70 77.65 L566.86 75.72 L568.02 73.96 L569.19 72.42 L570.35 71.12 L571.51 70.10 L572.67 69.35 L573.84 68.82 L575.00 68.43 L576.16 68.14 L577.33 67.88 L578.49 67.59 L579.65 67.25 L580.81 66.84 L581.98 66.34 L583.14 65.73 L584.30 65.02 L585.46 64.39 L586.62 64.04 L587.79 64.16 L588.95 64.89 L590.11 66.25 L591.27 68.20 L592.44 70.37 L593.60 72.40 L594.76 74.19 L595.92 75.78 L597.09 77.24 L598.25 78.62 L599.41 79.96 L600.58 81.31 L601.74 82.73 L602.90 84.26 L604.06 85.94 L605.23 87.79 L606.39 89.78 L607.55 91.89 L608.71 94.12 L609.88 96.45 L611.04 98.88 L612.20 101.44 L613.36 104.24 L614.52 107.36 L615.69 110.87 L616.85 114.86 L618.01 119.41 L619.17 124.61 L620.34 130.55 L621.50 137.30" fill="none" stroke="#0000FF" stroke-width="0.95" stroke-linejoin="round" stroke-linecap="round" />
<path d="M430.91 263.80V256.30M393.53 263.80V256.30M496.70 263.80V256.30M557.55 263.80V256.30M486.70 263.80V256.30M501.86 263.80V256.30M391.97 263.80V256.30M502.31 263.80V256.30M607.97 263.80V256.30M586.81 263.80V256.30M558.72 263.80V256.30M414.28 263.80V256.30M596.83 263.80V256.30M588.29 263.80V256.30M427.38 263.80V256.30M536.02 263.80V256.30M393.76 263.80V256.30M416.14 263.80V256.30M462.56 263.80V256.30M425.71 263.80V256.30M565.46 263.80V256.30M579.25 263.80V256.30M469.13 263.80V256.30M463.12 263.80V256.30M414.96 263.80V256.30M408.52 263.80V256.30M554.71 263.80V256.30M528.39 263.80V256.30M401.94 263.80V256.30M500.55 263.80V256.30M482.39 263.80V256.30M586.16 263.80V256.30M555.90 263.80V256.30M528.98 263.80V256.30M517.43 263.80V256.30M609.67 263.80V256.30M618.40 263.80V256.30M467.60 263.80V256.30M444.77 263.80V256.30M574.17 263.80V256.30M403.81 263.80V256.30M473.77 263.80V256.30M405.28 263.80V256.30M463.25 263.80V256.30M405.36 263.80V256.30M456.49 263.80V256.30M572.70 263.80V256.30M599.51 263.80V256.30M573.28 263.80V256.30M519.62 263.80V256.30M532.22 263.80V256.30M473.04 263.80V256.30M428.25 263.80V256.30M490.43 263.80V256.30M559.38 263.80V256.30M403.62 263.80V256.30M393.82 263.80V256.30M568.15 263.80V256.30M458.74 263.80V256.30M552.02 263.80V256.30M559.81 263.80V256.30M605.90 263.80V256.30M482.08 263.80V256.30M472.34 263.80V256.30M576.53 263.80V256.30M566.74 263.80V256.30M540.73 263.80V256.30M577.55 263.80V256.30M538.31 263.80V256.30M611.61 263.80V256.30M466.63 263.80V256.30M560.64 263.80V256.30M609.84 263.80V256.30M466.74 263.80V256.30M531.20 263.80V256.30M474.02 263.80V256.30M496.31 263.80V256.30M406.44 263.80V256.30M393.50 263.80V256.30M565.62 263.80V256.30M494.27 263.80V256.30M533.81 263.80V256.30M561.04 263.80V256.30M486.34 263.80V256.30M474.47 263.80V256.30M428.30 263.80V256.30M573.58 263.80V256.30M582.68 263.80V256.30M559.70 263.80V256.30M592.51 263.80V256.30M539.67 263.80V256.30M550.84 263.80V256.30M433.88 263.80V256.30M567.47 263.80V256.30M466.67 263.80V256.30M490.83 263.80V256.30M463.14 263.80V256.30M521.13 263.80V256.30M542.15 263.80V256.30M522.82 263.80V256.30M462.98 263.80V256.30M439.69 263.80V256.30M585.45 263.80V256.30M459.25 263.80V256.30M490.89 263.80V256.30M410.25 263.80V256.30M458.98 263.80V256.30M408.92 263.80V256.30M468.91 263.80V256.30M553.91 263.80V256.30M615.45 263.80V256.30M534.36 263.80V256.30M451.61 263.80V256.30M541.68 263.80V256.30M534.78 263.80V256.30M580.96 263.80V256.30M513.08 263.80V256.30M600.84 263.80V256.30M485.60 263.80V256.30M455.51 263.80V256.30M509.67 263.80V256.30M603.47 263.80V256.30M557.31 263.80V256.30M503.83 263.80V256.30M504.67 263.80V256.30M539.83 263.80V256.30M493.11 263.80V256.30M517.02 263.80V256.30M614.80 263.80V256.30M605.79 263.80V256.30M584.46 263.80V256.30M418.54 263.80V256.30M518.39 263.80V256.30M474.19 263.80V256.30M600.99 263.80V256.30M461.93 263.80V256.30M605.40 263.80V256.30M444.42 263.80V256.30M486.74 263.80V256.30M612.19 263.80V256.30M527.45 263.80V256.30M605.72 263.80V256.30M514.28 263.80V256.30M442.02 263.80V256.30M554.76 263.80V256.30M510.27 263.80V256.30M506.52 263.80V256.30M420.73 263.80V256.30M422.69 263.80V256.30M605.13 263.80V256.30M611.28 263.80V256.30M613.58 263.80V256.30M472.19 263.80V256.30M399.66 263.80V256.30M517.79 263.80V256.30M560.19 263.80V256.30M539.67 263.80V256.30M401.31 263.80V256.30M443.15 263.80V256.30M553.12 263.80V256.30M401.81 263.80V256.30M585.81 263.80V256.30M618.96 263.80V256.30M446.61 263.80V256.30M401.58 263.80V256.30M616.78 263.80V256.30M567.38 263.80V256.30M494.60 263.80V256.30M500.19 263.80V256.30M601.85 263.80V256.30M471.73 263.80V256.30M401.36 263.80V256.30M531.75 263.80V256.30M461.67 263.80V256.30M547.46 263.80V256.30M609.40 263.80V256.30M472.83 263.80V256.30M446.43 263.80V256.30M401.31 263.80V256.30M582.36 263.80V256.30M407.22 263.80V256.30M610.38 263.80V256.30M553.18 263.80V256.30M600.93 263.80V256.30M578.36 263.80V256.30M433.34 263.80V256.30M429.90 263.80V256.30M612.52 263.80V256.30M456.67 263.80V256.30M572.82 263.80V256.30M428.71 263.80V256.30M458.54 263.80V256.30M545.59 263.80V256.30M446.76 263.80V256.30M563.81 263.80V256.30M593.43 263.80V256.30M463.49 263.80V256.30M458.45 263.80V256.30M395.45 263.80V256.30M487.27 263.80V256.30M404.22 263.80V256.30M522.61 263.80V256.30M548.95 263.80V256.30M521.13 263.80V256.30M529.37 263.80V256.30M528.42 263.80V256.30M598.87 263.80V256.30M512.46 263.80V256.30M589.27 263.80V256.30M470.83 263.80V256.30M421.70 263.80V256.30M440.59 263.80V256.30M573.44 263.80V256.30M442.40 263.80V256.30M568.62 263.80V256.30M598.91 263.80V256.30M515.57 263.80V256.30M422.30 263.80V256.30M533.96 263.80V256.30M477.23 263.80V256.30M600.21 263.80V256.30M441.00 263.80V256.30M443.47 263.80V256.30M501.15 263.80V256.30M503.75 263.80V256.30M432.66 263.80V256.30M476.03 263.80V256.30M544.35 263.80V256.30M498.40 263.80V256.30M402.88 263.80V256.30M485.56 263.80V256.30M485.68 263.80V256.30M493.07 263.80V256.30M394.54 263.80V256.30M452.70 263.80V256.30M609.97 263.80V256.30M594.30 263.80V256.30M607.71 263.80V256.30M565.44 263.80V256.30M489.90 263.80V256.30M606.97 263.80V256.30M458.90 263.80V256.30M526.92 263.80V256.30M525.58 263.80V256.30M491.48 263.80V256.30M447.21 263.80V256.30M465.84 263.80V256.30M538.48 263.80V256.30M455.04 263.80V256.30M469.49 263.80V256.30M471.33 263.80V256.30M464.52 263.80V256.30M581.63 263.80V256.30M515.90 263.80V256.30M393.27 263.80V256.30M561.42 263.80V256.30M505.75 263.80V256.30M570.09 263.80V256.30M503.99 263.80V256.30M461.27 263.80V256.30M584.13 263.80V256.30M429.30 263.80V256.30M453.70 263.80V256.30M501.56 263.80V256.30M588.92 263.80V256.30M415.79 263.80V256.30M467.75 263.80V256.30M512.75 263.80V256.30M546.72 263.80V256.30M413.46 263.80V256.30M564.60 263.80V256.30M518.48 263.80V256.30M509.24 263.80V256.30M477.55 263.80V256.30M462.16 263.80V256.30M596.04 263.80V256.30M620.05 263.80V256.30M429.74 263.80V256.30M438.17 263.80V256.30M544.09 263.80V256.30M566.76 263.80V256.30M580.34 263.80V256.30M459.32 263.80V256.30M437.62 263.80V256.30M405.87 263.80V256.30M476.50 263.80V256.30M519.78 263.80V256.30M591.87 263.80V256.30M396.68 263.80V256.30M409.84 263.80V256.30M540.86 263.80V256.30M545.08 263.80V256.30M417.86 263.80V256.30M411.41 263.80V256.30M395.50 263.80V256.30M539.83 263.80V256.30M454.07 263.80V256.30M445.03 263.80V256.30M543.51 263.80V256.30M417.13 263.80V256.30M513.72 263.80V256.30M410.14 263.80V256.30M404.29 263.80V256.30M544.43 263.80V256.30M573.05 263.80V256.30M496.51 263.80V256.30M482.50 263.80V256.30M552.11 263.80V256.30M406.68 263.80V256.30M453.70 263.80V256.30M599.47 263.80V256.30M609.63 263.80V256.30M397.93 263.80V256.30M389.71 263.80V256.30M567.53 263.80V256.30M494.06 263.80V256.30M566.27 263.80V256.30M538.49 263.80V256.30M493.15 263.80V256.30M554.07 263.80V256.30M529.55 263.80V256.30M392.65 263.80V256.30M497.37 263.80V256.30M594.07 263.80V256.30M570.42 263.80V256.30M541.27 263.80V256.30M533.52 263.80V256.30M578.86 263.80V256.30M456.74 263.80V256.30M480.63 263.80V256.30M535.63 263.80V256.30M579.87 263.80V256.30M463.72 263.80V256.30M428.17 263.80V256.30M452.30 263.80V256.30M491.06 263.80V256.30M411.89 263.80V256.30M535.09 263.80V256.30M597.43 263.80V256.30M468.56 263.80V256.30M611.36 263.80V256.30M486.56 263.80V256.30M513.56 263.80V256.30M616.09 263.80V256.30M554.08 263.80V256.30M506.53 263.80V256.30M564.43 263.80V256.30M499.04 263.80V256.30M556.77 263.80V256.30M440.70 263.80V256.30M406.88 263.80V256.30M528.30 263.80V256.30M510.76 263.80V256.30M496.11 263.80V256.30M416.31 263.80V256.30M606.28 263.80V256.30M414.98 263.80V256.30M613.94 263.80V256.30M462.96 263.80V256.30M454.53 263.80V256.30M607.55 263.80V256.30M612.34 263.80V256.30M551.90 263.80V256.30M611.09 263.80V256.30M429.68 263.80V256.30M588.17 263.80V256.30M532.73 263.80V256.30M457.72 263.80V256.30M527.67 263.80V256.30M414.41 263.80V256.30M573.14 263.80V256.30M538.24 263.80V256.30M413.89 263.80V256.30M440.07 263.80V256.30M456.83 263.80V256.30M499.14 263.80V256.30M442.62 263.80V256.30M458.18 263.80V256.30M517.22 263.80V256.30M423.17 263.80V256.30M564.15 263.80V256.30M493.76 263.80V256.30M483.65 263.80V256.30M522.33 263.80V256.30M425.66 263.80V256.30M596.28 263.80V256.30M415.77 263.80V256.30M516.21 263.80V256.30M613.35 263.80V256.30M421.36 263.80V256.30M551.47 263.80V256.30M615.73 263.80V256.30M620.53 263.80V256.30M469.85 263.80V256.30M534.49 263.80V256.30M608.10 263.80V256.30M534.21 263.80V256.30M591.93 263.80V256.30M551.19 263.80V256.30M397.58 263.80V256.30M469.34 263.80V256.30M596.81 263.80V256.30M498.00 263.80V256.30M489.90 263.80V256.30M459.89 263.80V256.30M426.14 263.80V256.30M544.51 263.80V256.30M480.92 263.80V256.30M594.09 263.80V256.30M399.04 263.80V256.30M592.29 263.80V256.30M410.48 263.80V256.30M580.47 263.80V256.30M495.49 263.80V256.30M561.09 263.80V256.30M493.83 263.80V256.30M425.86 263.80V256.30M609.45 263.80V256.30M538.38 263.80V256.30M438.94 263.80V256.30M527.69 263.80V256.30M437.74 263.80V256.30M482.45 263.80V256.30M527.39 263.80V256.30M530.89 263.80V256.30M414.10 263.80V256.30M433.77 263.80V256.30M495.54 263.80V256.30M509.01 263.80V256.30M588.31 263.80V256.30M523.09 263.80V256.30M577.68 263.80V256.30M474.96 263.80V256.30M432.65 263.80V256.30M454.03 263.80V256.30M394.81 263.80V256.30M473.66 263.80V256.30M536.75 263.80V256.30M584.76 263.80V256.30M443.59 263.80V256.30M553.09 263.80V256.30M563.94 263.80V256.30M549.71 263.80V256.30M612.99 263.80V256.30M523.82 263.80V256.30M492.13 263.80V256.30M513.81 263.80V256.30M390.11 263.80V256.30M390.56 263.80V256.30M503.76 263.80V256.30M476.56 263.80V256.30M420.38 263.80V256.30M471.37 263.80V256.30M538.14 263.80V256.30M510.55 263.80V256.30M481.16 263.80V256.30M568.04 263.80V256.30M401.40 263.80V256.30M595.03 263.80V256.30M546.90 263.80V256.30M486.53 263.80V256.30M549.83 263.80V256.30M607.37 263.80V256.30M541.25 263.80V256.30M544.39 263.80V256.30M552.24 263.80V256.30M601.90 263.80V256.30M595.77 263.80V256.30M453.95 263.80V256.30M394.21 263.80V256.30M453.59 263.80V256.30M473.64 263.80V256.30M446.53 263.80V256.30M495.32 263.80V256.30M607.08 263.80V256.30M433.02 263.80V256.30M477.70 263.80V256.30M582.68 263.80V256.30M419.47 263.80V256.30M470.93 263.80V256.30M517.08 263.80V256.30M567.88 263.80V256.30M589.38 263.80V256.30M448.52 263.80V256.30M610.42 263.80V256.30M490.10 263.80V256.30M419.45 263.80V256.30M425.96 263.80V256.30M490.69 263.80V256.30M577.75 263.80V256.30M405.04 263.80V256.30M439.57 263.80V256.30M575.40 263.80V256.30M580.43 263.80V256.30M435.51 263.80V256.30M402.07 263.80V256.30M541.06 263.80V256.30M573.59 263.80V256.30M400.57 263.80V256.30M510.51 263.80V256.30M421.97 263.80V256.30M528.70 263.80V256.30M415.14 263.80V256.30M419.64 263.80V256.30M514.68 263.80V256.30M609.18 263.80V256.30M395.65 263.80V256.30M412.11 263.80V256.30M435.96 263.80V256.30M578.42 263.80V256.30M444.87 263.80V256.30M452.25 263.80V256.30M488.83 263.80V256.30M588.21 263.80V256.30M454.16 263.80V256.30M498.67 263.80V256.30M499.43 263.80V256.30M505.15 263.80V256.30M492.66 263.80V256.30M576.18 263.80V256.30M435.48 263.80V256.30M506.27 263.80V256.30M419.46 263.80V256.30M591.59 263.80V256.30M487.80 263.80V256.30M621.04 263.80V256.30M543.21 263.80V256.30M436.45 263.80V256.30M604.03 263.80V256.30M457.26 263.80V256.30M537.43 263.80V256.30M566.91 263.80V256.30M413.02 263.80V256.30M431.81 263.80V256.30M488.20 263.80V256.30M472.37 263.80V256.30M462.44 263.80V256.30M451.82 263.80V256.30M472.83 263.80V256.30M617.22 263.80V256.30M495.59 263.80V256.30M495.46 263.80V256.30M447.24 263.80V256.30M433.10 263.80V256.30M448.85 263.80V256.30M594.91 263.80V256.30M595.05 263.80V256.30M428.70 263.80V256.30M481.21 263.80V256.30M523.95 263.80V256.30M517.69 263.80V256.30M435.83 263.80V256.30M403.35 263.80V256.30M574.22 263.80V256.30M419.19 263.80V256.30M481.42 263.80V256.30M566.23 263.80V256.30M548.33 263.80V256.30M483.94 263.80V256.30M574.84 263.80V256.30M619.93 263.80V256.30M500.59 263.80V256.30M594.75 263.80V256.30M510.11 263.80V256.30M479.27 263.80V256.30M619.06 263.80V256.30M568.49 263.80V256.30M420.49 263.80V256.30M514.81 263.80V256.30M477.17 263.80V256.30M504.21 263.80V256.30M564.70 263.80V256.30M467.46 263.80V256.30M528.75 263.80V256.30M444.39 263.80V256.30M492.04 263.80V256.30M595.74 263.80V256.30M560.33 263.80V256.30M473.37 263.80V256.30M453.69 263.80V256.30M529.20 263.80V256.30M499.44 263.80V256.30M618.60 263.80V256.30M457.84 263.80V256.30M603.09 263.80V256.30M443.53 263.80V256.30M575.32 263.80V256.30M590.20 263.80V256.30M432.92 263.80V256.30M492.19 263.80V256.30M554.31 263.80V256.30M484.79 263.80V256.30M413.98 263.80V256.30M567.46 263.80V256.30M502.14 263.80V256.30M431.90 263.80V256.30M400.93 263.80V256.30M510.06 263.80V256.30M456.96 263.80V256.30M578.09 263.80V256.30M425.63 263.80V256.30M392.81 263.80V256.30M600.03 263.80V256.30M486.12 263.80V256.30M587.48 263.80V256.30M521.59 263.80V256.30M593.81 263.80V256.30M607.16 263.80V256.30M408.61 263.80V256.30M453.88 263.80V256.30M431.58 263.80V256.30M611.41 263.80V256.30M550.52 263.80V256.30M604.22 263.80V256.30M618.07 263.80V256.30M573.09 263.80V256.30M592.24 263.80V256.30M607.74 263.80V256.30M530.68 263.80V256.30M579.57 263.80V256.30M615.57 263.80V256.30M498.62 263.80V256.30M439.39 263.80V256.30M543.70 263.80V256.30M401.89 263.80V256.30M460.94 263.80V256.30M476.59 263.80V256.30M576.14 263.80V256.30M394.57 263.80V256.30M463.80 263.80V256.30M460.30 263.80V256.30M543.04 263.80V256.30M592.51 263.80V256.30M500.71 263.80V256.30M585.22 263.80V256.30M487.15 263.80V256.30M505.81 263.80V256.30M463.66 263.80V256.30M434.60 263.80V256.30M596.04 263.80V256.30M529.05 263.80V256.30M451.36 263.80V256.30M514.25 263.80V256.30M483.13 263.80V256.30M397.57 263.80V256.30M551.00 263.80V256.30M590.79 263.80V256.30M530.53 263.80V256.30M423.34 263.80V256.30M486.53 263.80V256.30M436.34 263.80V256.30M428.60 263.80V256.30M457.42 263.80V256.30M597.31 263.80V256.30M585.00 263.80V256.30M573.52 263.80V256.30M604.78 263.80V256.30M414.08 263.80V256.30M439.91 263.80V256.30M399.09 263.80V256.30M389.96 263.80V256.30M538.08 263.80V256.30M483.98 263.80V256.30M520.49 263.80V256.30M590.99 263.80V256.30M455.64 263.80V256.30M445.87 263.80V256.30M579.95 263.80V256.30M394.77 263.80V256.30M604.29 263.80V256.30M469.68 263.80V256.30M396.77 263.80V256.30M439.42 263.80V256.30M407.81 263.80V256.30M585.41 263.80V256.30M401.91 263.80V256.30M401.42 263.80V256.30M531.98 263.80V256.30M437.82 263.80V256.30M466.79 263.80V256.30M571.82 263.80V256.30M487.91 263.80V256.30M558.58 263.80V256.30M454.53 263.80V256.30M419.48 263.80V256.30M404.82 263.80V256.30M583.93 263.80V256.30M417.39 263.80V256.30M407.26 263.80V256.30M425.52 263.80V256.30M510.25 263.80V256.30M549.05 263.80V256.30M503.88 263.80V256.30M533.34 263.80V256.30M504.60 263.80V256.30M562.07 263.80V256.30M529.32 263.80V256.30M429.90 263.80V256.30M467.12 263.80V256.30M619.94 263.80V256.30M493.31 263.80V256.30M546.51 263.80V256.30M429.09 263.80V256.30M546.13 263.80V256.30M551.28 263.80V256.30M426.24 263.80V256.30M607.87 263.80V256.30M480.68 263.80V256.30M469.48 263.80V256.30M546.62 263.80V256.30M602.95 263.80V256.30M583.89 263.80V256.30M519.67 263.80V256.30M401.63 263.80V256.30M501.96 263.80V256.30M533.33 263.80V256.30M583.51 263.80V256.30M436.00 263.80V256.30M497.28 263.80V256.30M538.06 263.80V256.30M549.01 263.80V256.30M399.78 263.80V256.30M592.65 263.80V256.30M415.42 263.80V256.30M587.58 263.80V256.30M589.82 263.80V256.30M531.44 263.80V256.30M514.80 263.80V256.30M470.28 263.80V256.30M479.36 263.80V256.30M603.26 263.80V256.30M541.93 263.80V256.30M497.07 263.80V256.30M472.41 263.80V256.30M620.37 263.80V256.30M606.57 263.80V256.30M603.84 263.80V256.30M604.21 263.80V256.30M471.94 263.80V256.30M582.88 263.80V256.30M549.05 263.80V256.30M601.26 263.80V256.30M560.02 263.80V256.30M582.69 263.80V256.30M575.05 263.80V256.30M523.53 263.80V256.30M550.95 263.80V256.30M406.58 263.80V256.30M478.43 263.80V256.30M576.09 263.80V256.30M410.61 263.80V256.30M465.75 263.80V256.30M534.61 263.80V256.30M493.66 263.80V256.30M405.82 263.80V256.30M428.77 263.80V256.30M543.86 263.80V256.30M516.42 263.80V256.30M525.82 263.80V256.30M599.83 263.80V256.30M605.91 263.80V256.30M457.34 263.80V256.30M594.75 263.80V256.30M510.68 263.80V256.30M538.48 263.80V256.30M412.50 263.80V256.30M482.35 263.80V256.30M609.58 263.80V256.30M607.37 263.80V256.30M485.56 263.80V256.30M446.24 263.80V256.30M612.19 263.80V256.30M505.61 263.80V256.30M609.32 263.80V256.30M397.20 263.80V256.30M527.15 263.80V256.30M454.54 263.80V256.30M389.91 263.80V256.30M502.54 263.80V256.30M609.48 263.80V256.30M495.65 263.80V256.30M438.65 263.80V256.30M551.53 263.80V256.30M592.61 263.80V256.30M565.64 263.80V256.30M447.16 263.80V256.30M569.94 263.80V256.30M569.82 263.80V256.30M496.03 263.80V256.30M564.52 263.80V256.30M397.50 263.80V256.30M436.79 263.80V256.30M479.09 263.80V256.30M604.55 263.80V256.30M550.78 263.80V256.30M544.45 263.80V256.30M580.39 263.80V256.30M556.93 263.80V256.30M403.57 263.80V256.30M596.43 263.80V256.30M566.27 263.80V256.30M439.12 263.80V256.30M527.29 263.80V256.30M494.06 263.80V256.30M395.75 263.80V256.30M575.49 263.80V256.30M469.02 263.80V256.30M534.91 263.80V256.30M579.81 263.80V256.30M605.37 263.80V256.30M511.42 263.80V256.30M493.26 263.80V256.30M391.27 263.80V256.30M415.28 263.80V256.30M557.86 263.80V256.30M431.54 263.80V256.30M511.55 263.80V256.30M427.67 263.80V256.30M573.51 263.80V256.30M437.89 263.80V256.30M568.20 263.80V256.30M492.36 263.80V256.30M563.19 263.80V256.30M472.48 263.80V256.30M613.35 263.80V256.30M505.88 263.80V256.30M483.43 263.80V256.30M485.45 263.80V256.30M459.73 263.80V256.30M545.25 263.80V256.30M429.41 263.80V256.30M424.83 263.80V256.30M613.06 263.80V256.30M437.80 263.80V256.30M577.45 263.80V256.30M408.29 263.80V256.30M527.22 263.80V256.30M413.52 263.80V256.30M472.81 263.80V256.30M466.74 263.80V256.30M531.51 263.80V256.30M389.94 263.80V256.30M453.37 263.80V256.30M566.02 263.80V256.30M565.43 263.80V256.30M572.60 263.80V256.30M523.12 263.80V256.30M564.36 263.80V256.30M490.09 263.80V256.30M462.31 263.80V256.30M577.73 263.80V256.30M481.29 263.80V256.30M419.81 263.80V256.30M611.09 263.80V256.30M418.89 263.80V256.30M567.29 263.80V256.30M437.54 263.80V256.30M588.58 263.80V256.30M534.11 263.80V256.30M608.45 263.80V256.30M529.31 263.80V256.30M584.80 263.80V256.30M504.27 263.80V256.30M595.97 263.80V256.30M484.05 263.80V256.30M604.84 263.80V256.30M539.27 263.80V256.30M603.00 263.80V256.30M398.97 263.80V256.30M473.85 263.80V256.30M598.64 263.80V256.30M451.27 263.80V256.30M515.38 263.80V256.30M486.54 263.80V256.30M391.32 263.80V256.30M398.61 263.80V256.30M502.98 263.80V256.30M476.96 263.80V256.30M595.39 263.80V256.30M465.08 263.80V256.30M425.68 263.80V256.30M416.84 263.80V256.30M484.60 263.80V256.30M617.97 263.80V256.30M597.66 263.80V256.30M513.44 263.80V256.30M509.78 263.80V256.30M533.39 263.80V256.30M561.78 263.80V256.30M402.04 263.80V256.30M607.12 263.80V256.30M592.46 263.80V256.30M497.56 263.80V256.30M467.49 263.80V256.30M512.33 263.80V256.30M506.15 263.80V256.30M462.84 263.80V256.30M418.02 263.80V256.30M557.67 263.80V256.30M595.92 263.80V256.30M540.13 263.80V256.30M456.50 263.80V256.30M490.55 263.80V256.30M432.66 263.80V256.30M606.87 263.80V256.30M447.27 263.80V256.30M471.01 263.80V256.30M539.64 263.80V256.30M560.28 263.80V256.30M493.90 263.80V256.30M420.99 263.80V256.30M484.31 263.80V256.30M578.85 263.80V256.30M454.03 263.80V256.30M483.98 263.80V256.30M452.56 263.80V256.30M474.89 263.80V256.30M467.02 263.80V256.30M500.23 263.80V256.30M581.77 263.80V256.30M578.83 263.80V256.30M429.14 263.80V256.30M444.11 263.80V256.30M468.96 263.80V256.30M547.19 263.80V256.30M560.04 263.80V256.30M560.04 263.80V256.30M439.25 263.80V256.30M440.86 263.80V256.30M618.61 263.80V256.30M525.72 263.80V256.30M566.13 263.80V256.30M436.45 263.80V256.30M532.90 263.80V256.30M457.34 263.80V256.30M501.80 263.80V256.30M492.16 263.80V256.30M588.78 263.80V256.30M472.66 263.80V256.30M560.78 263.80V256.30M460.70 263.80V256.30M529.75 263.80V256.30M588.08 263.80V256.30M443.25 263.80V256.30M486.15 263.80V256.30M616.14 263.80V256.30M581.29 263.80V256.30M594.39 263.80V256.30M528.77 263.80V256.30M475.89 263.80V256.30M422.05 263.80V256.30M590.20 263.80V256.30M415.69 263.80V256.30M606.00 263.80V256.30M605.04 263.80V256.30M609.75 263.80V256.30M570.24 263.80V256.30M542.84 263.80V256.30M479.31 263.80V256.30M582.41 263.80V256.30M524.05 263.80V256.30M508.02 263.80V256.30M420.41 263.80V256.30M416.68 263.80V256.30M545.81 263.80V256.30M421.28 263.80V256.30M552.26 263.80V256.30M490.13 263.80V256.30M418.87 263.80V256.30M519.49 263.80V256.30M572.82 263.80V256.30M619.14 263.80V256.30M446.65 263.80V256.30M480.04 263.80V256.30M501.65 263.80V256.30M502.22 263.80V256.30M443.82 263.80V256.30M465.68 263.80V256.30M409.76 263.80V256.30M522.04 263.80V256.30M425.27 263.80V256.30M571.51 263.80V256.30M581.51 263.80V256.30M571.51 263.80V256.30M590.11 263.80V256.30M584.53 263.80V256.30M565.24 263.80V256.30M579.88 263.80V256.30M591.51 263.80V256.30M499.79 263.80V256.30M493.62 263.80V256.30M504.09 263.80V256.30M508.97 263.80V256.30M504.09 263.80V256.30M516.41 263.80V256.30M492.00 263.80V256.30M496.42 263.80V256.30M512.23 263.80V256.30M390.16 263.80V256.30M399.23 263.80V256.30M389.46 263.80V256.30M399.46 263.80V256.30M453.40 263.80V256.30" stroke="#000" stroke-width="0.55" fill="none"/>
</g>
<g stroke="#000" stroke-width="0.75" fill="none">
<rect x="58.00" y="12.50" width="251.00" height="251.30"/>
<path stroke-opacity="0.45" d="M64.90 263.80H299.47M58.00 205.50V22.00"/>
<path d="M64.90 263.80v7M111.81 263.80v7M158.73 263.80v7M205.64 263.80v7M252.56 263.80v7M299.47 263.80v7M58.00 205.50h-7M58.00 144.33h-7M58.00 83.17h-7M58.00 22.00h-7"/>
</g>
<text transform="translate(64.90 287.4) rotate(0.03)" text-anchor="middle">0</text>
<text transform="translate(111.81 287.4) rotate(0.03)" text-anchor="middle">20</text>
<text transform="translate(158.73 287.4) rotate(0.03)" text-anchor="middle">40</text>
<text transform="translate(205.64 287.4) rotate(0.03)" text-anchor="middle">60</text>
<text transform="translate(252.56 287.4) rotate(0.03)" text-anchor="middle">80</text>
<text transform="translate(299.47 287.4) rotate(0.03)" text-anchor="middle">100</text>
<text transform="translate(42.60 205.50) rotate(-89.97)" text-anchor="middle">5</text>
<text transform="translate(42.60 144.33) rotate(-89.97)" text-anchor="middle">10</text>
<text transform="translate(42.60 83.17) rotate(-89.97)" text-anchor="middle">15</text>
<text transform="translate(42.60 22.00) rotate(-89.97)" text-anchor="middle">20</text>
<text transform="translate(183.50 312.7) rotate(0.03)" text-anchor="middle">Iteration number</text>
<text transform="translate(17.10 138.15) rotate(-89.97)" text-anchor="middle">Criterion (scaled)</text>
<g stroke="#000" stroke-width="0.75" fill="none">
<rect x="380.00" y="12.50" width="251.00" height="251.30"/>
<path stroke-opacity="0.45" d="M389.00 263.80H621.50M380.00 258.00V30.50"/>
<path d="M389.00 263.80v7M435.50 263.80v7M482.00 263.80v7M528.50 263.80v7M575.00 263.80v7M621.50 263.80v7M380.00 258.00h-7M380.00 225.50h-7M380.00 193.00h-7M380.00 160.50h-7M380.00 128.00h-7M380.00 95.50h-7M380.00 63.00h-7M380.00 30.50h-7"/>
</g>
<text transform="translate(389.00 287.4) rotate(0.03)" text-anchor="middle">0.0</text>
<text transform="translate(435.50 287.4) rotate(0.03)" text-anchor="middle">0.2</text>
<text transform="translate(482.00 287.4) rotate(0.03)" text-anchor="middle">0.4</text>
<text transform="translate(528.50 287.4) rotate(0.03)" text-anchor="middle">0.6</text>
<text transform="translate(575.00 287.4) rotate(0.03)" text-anchor="middle">0.8</text>
<text transform="translate(621.50 287.4) rotate(0.03)" text-anchor="middle">1.0</text>
<text transform="translate(364.60 258.00) rotate(-89.97)" text-anchor="middle">−2.0</text>
<text transform="translate(364.60 225.50) rotate(-89.97)" text-anchor="middle">−1.5</text>
<text transform="translate(364.60 193.00) rotate(-89.97)" text-anchor="middle">−1.0</text>
<text transform="translate(364.60 160.50) rotate(-89.97)" text-anchor="middle">−0.5</text>
<text transform="translate(364.60 128.00) rotate(-89.97)" text-anchor="middle">0.0</text>
<text transform="translate(364.60 95.50) rotate(-89.97)" text-anchor="middle">0.5</text>
<text transform="translate(364.60 63.00) rotate(-89.97)" text-anchor="middle">1.0</text>
<text transform="translate(364.60 30.50) rotate(-89.97)" text-anchor="middle">1.5</text>
<text transform="translate(505.50 312.7) rotate(0.03)" text-anchor="middle">x</text>
<text transform="translate(339.10 138.15) rotate(-89.97)" text-anchor="middle">Estimate</text>
</svg>
</body></html>
